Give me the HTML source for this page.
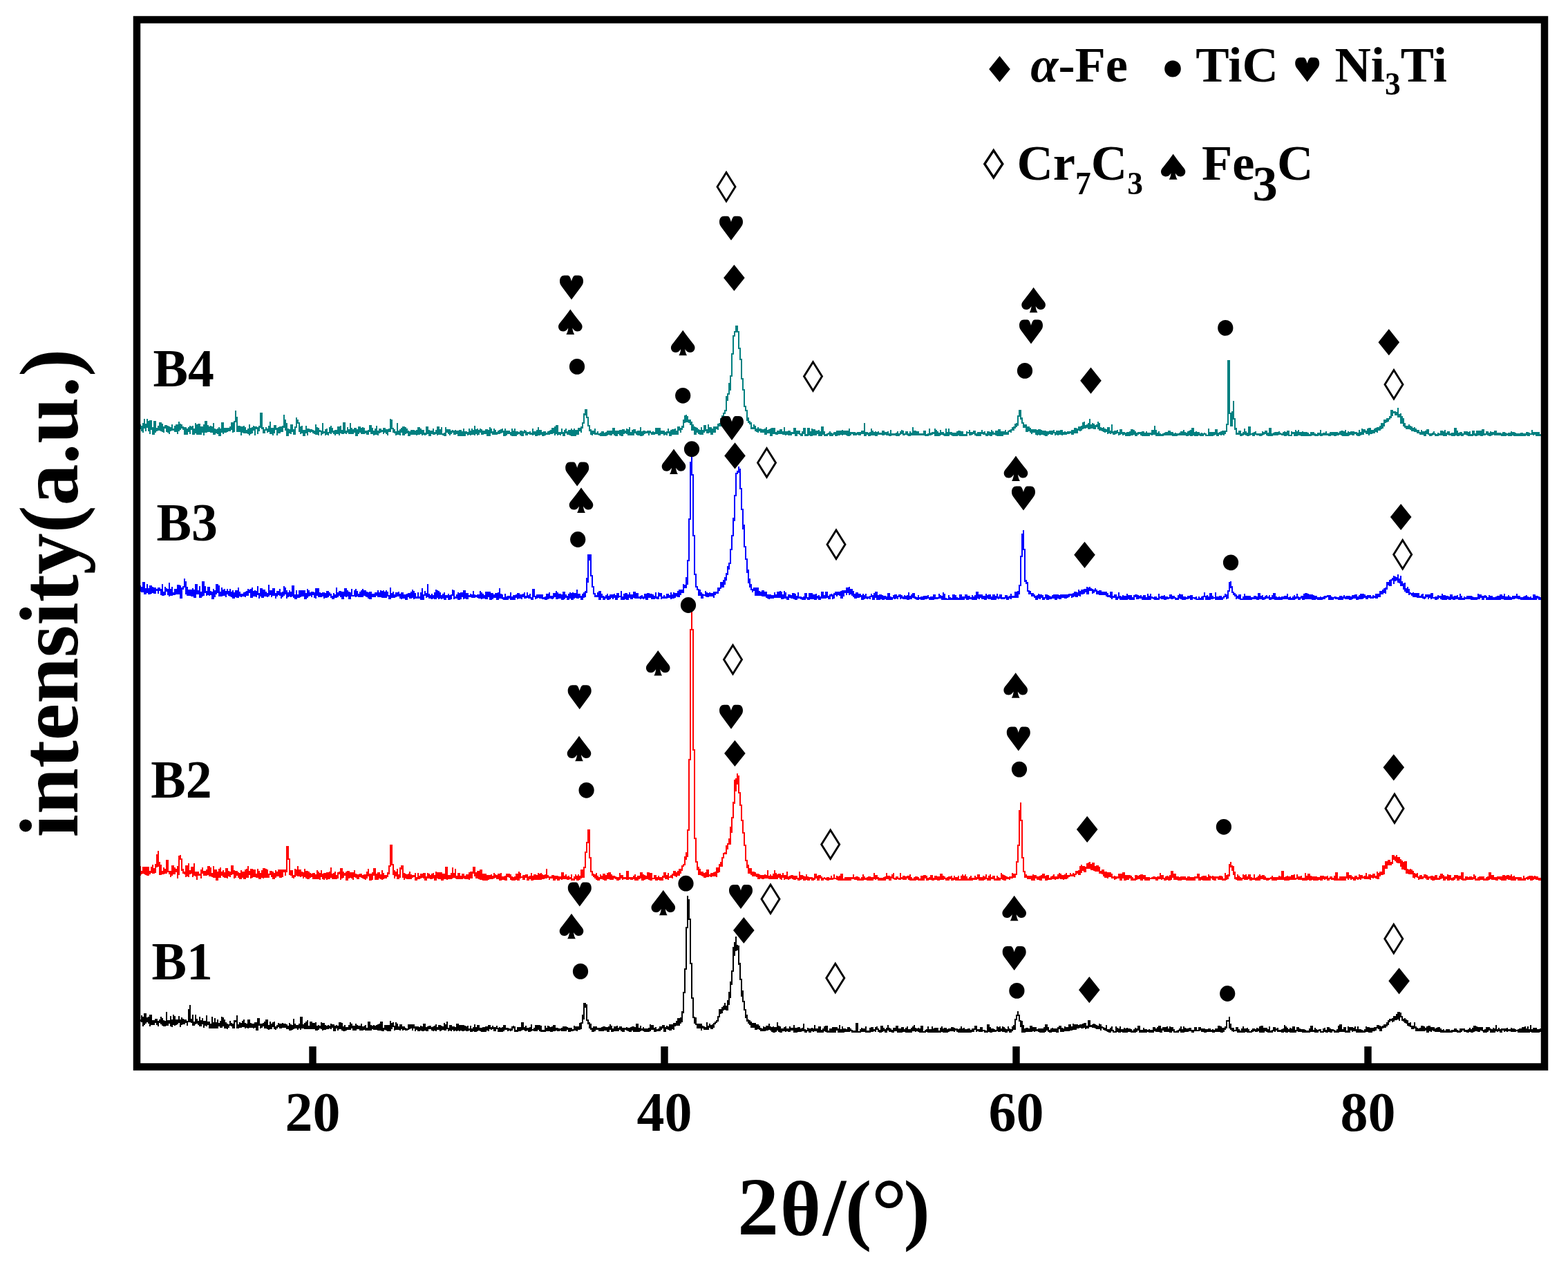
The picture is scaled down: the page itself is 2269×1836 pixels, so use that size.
<!DOCTYPE html>
<html><head><meta charset="utf-8"><title>XRD patterns B1-B4</title><style>html,body{margin:0;padding:0;background:#fff;}svg{display:block;}</style></head><body>
<svg width="2269" height="1836" viewBox="0 0 2269 1836">
<rect width="2269" height="1836" fill="#fff"/>
<defs><clipPath id="pc"><rect x="203" y="34" width="2027" height="1504"/></clipPath></defs>
<g clip-path="url(#pc)" fill="none" stroke-width="2" stroke-linejoin="miter" shape-rendering="crispEdges">
<path stroke="#008080" d="M199,616.3v-8h2v6v4h2v-4v4v2h2v-4v8v-8v2h2v8v-14v2h2v6v-14v6v2h2v8v2v-2v-4h2v-12v12v-8h2v8v6v-8v6h2v6v-6v-14v10h2v-10v10v4v-2h2v-2v2v8h2v-8v2v-12h2v10v6v-6h2v4v-4h2v-4v4v2h2v-8v2v2v-6h2v12v-2v-6v-2h2v2v2v6h2v2v-4v-4h2v2v-4v4v-4h2v6v-4v6h2v-8v6v4v-8h2v2v8v-4v-2h2v-4v2v4v-4h2v-6v8v-4v4h2v-2v2h2v-6v6v-4v6h2v-10v8v-2h2v-6v2v12v-8h2v-10v6v8v-10h2v6v2v-8v2h2v-2v6v-2h2v4v-2h2v6v-8v10h2v-10v10h2v-6v4v-6v2h2v-2v-2v2v4h2v-8v12v-10h2v4v-2h2v-4v4v4v4h2v-8v4v2h2v-8v-6v8h2v-2v6v-10v14h2v-10v-2v6v-8h2v2v8v4h2v-8v2v2v-6h2v6v-4v6v-2h2v-4v10v-16v4h2v4v2v2v-16h2v16v-8v6v-8h2v8v-2v2h2v-4v2v-4h2v-2v6v4v-6h2v6v-8h2v2v-8v16h2v-2v-6v6h2v-4v2v-2h2v4v2v-8v6h2v-6v-2v12h2v-8v-2v4h2v2v-12v12v-14h2v14v2v-6h2v4v-4v-2h2v2v4v-2h2v-4v4v-2v-2h2v2v2v-4h2v2v2v-6h2v4v-2v2v-10h2v12v2v-12v10h2v-10v8v-12h2v-16v8v2h2v12v2v6h2v-8v8h2v-8v8v-6v2h2v4v6v-12h2v6v-6v8v-4h2v-6v4v6h2v-8v8v-2v2h2v-4v4h2v2v-6v-2v2h2v-8v16v-4v-6h2v8v-8v6h2v-4v-4v4h2v-4v-2v4v-2h2v12v-12h2v2v-2v2h2v4v-6v10v-6h2v-4v6v-8v2h2v-10v4v-8v-6h2v16v-4v8v2h2v-2v6v2h2v-4v4v-4h2v-4v4v-4v4h2v-2v6v-6v2h2v-6v8h2v-14v16v2v-6h2v4v2v-8h2v10v-8v4h2v-4v-2v-4h2v2v4v-2h2v2v8v-4v-2h2v2v-8v8h2v-6v2v-4h2v2v2v-2v4h2v-4v-4v2h2v-6v-12v8h2v6v4v-10v14h2v-10v14v4h2v-10v4v2h2v-4v2v-2h2v-2v-6v14v-4h2v-10v2v6h2v2v4h2v-10v8v-8h2v-8v-6v6v-2h2v2v2h2v12v-6v2v4h2v-2v2v4v-10h2v8v-10v4v6h2v-4v2v-2v8h2v-8v4v-2h2v-6v8v-10v10h2v-4v-2v10v-8h2v-2v2v2h2v2v-4h2v2h2v-2v2v2h2v2v-4h2v-4v-6v6v8h2v-10v8v-2v-4h2v2v8v-2v-4h2v-2v2h2v4v2v-6v2h2v-14v16v-4v2h2v-2v2v-2v2h2v-2v2v4v-8h2v6v-8v2v6h2v-2v4v-4h2v-4v-2v-2v8h2v2v-6v-6v4h2v4v2v-2h2v2v-2v4v-2h2v-2v6v-8v2h2v4v-6v2h2v4v-2v-2v-6h2v8v-2v6v-8h2v-2v-4v8v2h2v-4v6v-2v-2h2v-6v4v6v-16h2v12v-6v6v2h2v-2v4v-4h2v-6v8v-4h2v6v-4v2v-4h2v-10v12v4v-8h2v6v2v-4h2v4v-6h2v4v-4v-2h2v2v4v2v2h2v-6v-2h2v6v-6v6v-10h2v8v-8v4h2v2v4v-8h2v8v-10v8v-6h2v6v-4v6v-2h2v-2h2v4v-2v2h2v-6v6v-4h2v-4v-4h2v10v2v-8h2v8v-4h2v2v4v-4v-2h2v4v-8v8h2v-12v10v-2h2v6v-6v4v-2h2v-2v-4v2h2v4v-4v-2v4h2v-2v2h2v2v-2v4v-8h2v4v2v-4h2v4v2v-4h2v6v-2v-6h2v-2v2v2h2v-6v4v-16v2h2v12h2v2v4v-6v2h2v2v-2v4h2v4v-6v2h2v-12v-2v12v4h2v-2v-2v2v-2h2v2v-4v8v-8h2v4v-2v-4h2v10v-8v6v-10h2v8v4v-6v2h2v-8v6v4v-2h2v-2v-4v6v-2h2v2v4h2v-6v2v4v-2h2v-6v6h2v-6v6v-2h2v-2v-2v6h2v-2v-2h2v6v-8v2h2v2v-8v6v4h2v-10v2v8v-4h2v-4v8v-6v4h2v-4v4v4v-6h2v4v-6v6h2v-2v4v-2h2v-2v2v-10h2v8v2v-2v-2h2v6v-8v4v4h2v-4v4v-6h2v4v-4v2v-2h2v-4v6v2h2v-2v2v-2h2v-2v4v-6v4h2v-4v-2v10v-12h2v6v-2v6h2v-2v2v-4v-2h2v4v-8v8v2h2v2v-2h2v-2v2v2h2v-8v-4v6h2v2v-2v2v-4h2v6v-2v2v-6h2v8v-4h2v2v-4h2v2v-2v-2v2h2v2v2v-2v2h2v-2v-4v4h2v2v-4v4v-4h2v2v2v2h2v-8v6v-4v6h2v-8v4v4h2v-2v-4v2h2v-6v8v2h2v-4v-2v2h2v-2v4v-2h2v4v-2h2v-2v-6v4h2v4v2v-4h2v-2v4v-8v8h2v-6v4v2v-4h2v-8v12v2v-8h2v6v-2v2v-4h2v2v-6v10v-2h2v-4v-2v6v-4h2v-4v6v-2v-2h2v6v-4v4h2v-2v2v-4h2v4v-4h2v-2v6v-2v-4h2v4v-2v6h2v-2v2v-8v8h2v-12v8v-2h2v-4v6h2v2v-4v4h2v-4v-4v8h2v-6v4v2h2v-2v2v-2h2v2v-4h2v4v-6v4h2v-4h2v4v-6v4h2v4v2h2v-4v2v-8v4h2v2v4v-4h2v-2v2v2v-4h2v4v-2h2v4v-4v2v-2h2v-6v2v4v4h2v-4v-2h2v2v2v-8v10h2v-4v-2v4h2v-4v2h2v2v-2h2v4v-6h2v6v-4v-2v6h2v-2v-2v-2v2h2v-4v2h2v6v-2h2v2v-4h2v2v-2h2v-2v2v2h2v-2v2v-2v2h2v-8v10v-4h2v2v-4v4h2v-2v-2v6h2v-4v-4v6v-4h2v6v-12v4v2h2v6v-8v2v4h2v-4v2v-4v4h2v4v-4v4h2v-2v-2v-2v2h2v2v-4v6v-2h2v-2v2h2v-2v-2v4h2v-4v2v-2h2v4v-6v2h2v4v-8h2v6v-6v2v4h2v2v2v-12h2v4v4v2v-12h2v14v-4v2h2v-2h2v2v2v-4h2v2v-8v4v2h2v4h2v-8v8v-6h2v-4v6h2v2v-4v4h2v-6v4v2v-2h2v4v-8v4h2v4v-10v8v2h2v-4v-4v6h2v-8v10v-2v2h2v-8v4v-4v6h2v-4v-2v6h2v-2v-2v-4h2v4v-2v-2v2h2v4v-4v-4h2v2v-8h2v-2v-12v2h2v-2v-4v-2v8h2v-8v12h2v2v6v4h2v8v-4v2h2v6v-4v4h2v-2v4v-6h2v4v-4v2h2v-6v6v2h2v-2v2h2v-4v2v2h2v2v-2h2v-2v2v2h2v-4v-2v2v4h2v-6v4v-2v4h2v-2v-2v4h2v-2v-2h2v2v2v-4v-2h2v4v-2v2h2v2v-2v-4h2v4v2v-4h2v-2v4v-4v-4h2v10v-6h2v2v2v2h2v-6v2v-2h2v2v2v-4h2v6v-8v6h2v-6v6v2h2v-8v4v-2v-2h2v6v-2v-2h2v2h2v-6v8v-2v-4h2v6v2v-2h2v2v-6v-6v8h2v4v-2h2v-6v8v-2h2v2v-4v-4h2v4v-4v4h2v-2v4h2v2v-6h2v2v-2v6v-6h2v6v-2v-10v12h2v-6v2h2v4v-4v-2h2v4v-2h2v-2v2h2v-2v2v-2h2v4v2v-2v-4h2v2v-2v2h2v2v-2v2h2v-2v-2v4h2v-2h2v2v-8h2v4v2v2v-4h2v4v2v-10h2v4v6v-4v-2h2v4v-2h2v2v-4v4v-4h2v2v-2v6v-2h2v-2h2v4v-2v-4v2h2v-2v2v-6v6h2v-2v4v2h2v-8v6v-6v6h2v-4v4v-6h2v2v4h2v-8v8v-4h2v2v-2v4h2v-6v2v-6h2v2v2h2v4v-2v-2v-2h2v-4v6v-6v2h2v-2v2v-10h2v4v-10h2v6v-8v4v6h2v-8v6v2v-2h2v4v-4h2v4v-2v4h2v-4v6v-2v8h2v-4v-4v6v-2h2v4v2v4h2v-4v-6v10v-8h2v6v-4h2v4v2v-6v2h2v2v-4v6h2v-6v4v-8v10h2v-4v-2v2h2v2v-10h2v8v-4v4v-2h2v2v-2v4h2v-2v-4v-6v10h2v2v-8v4h2v-2v-2v6v4h2v-4v2v-6v4h2v2v-4v2v-6h2v8v-2v-4h2v-2h2v-2v6v-2v-6h2v2v-4v4h2v-4v-2v-2v-2h2v2v-4v-2h2v8v-12h2v-4h2v-6v2v-6v-10h2v6v-2v-8h2v-6v-2v-8v10h2v-14v-6h2v-18v-6v-8h2v-10v-8v10v-18h2v-4v4v-2v-4h2v-2v-6h2v8v-6v6h2v6v2v16h2v6v4v2v4h2v14v4v8v2h2v12v-12v16h2v10v-8v8v14h2v4v2h2v8v-4v6v4h2v-4v4v4v-2h2v2v2v-2h2v8h2v-2v2h2v-6v4v2v-2h2v6v-8v6h2v-2v2v2h2v-6v8v-4h2v2v-4v4v-2h2v4v-6v4h2v2v-4h2v2v2v-4h2v-2v4v2v2h2v-10v10v-2h2v-4v4h2v-2v-2h2v6v-8v8v2h2v-4v2v-8h2v6v-2v4v-8h2v8v-4v2h2v2h2v-2v-2h2v4v-4v2h2v-2v4v-6h2v4v2v-2h2v2v-4v4h2v-10v6v-6v10h2v2v-4v-2v4h2v-4v2v2v-2h2v2v2v-2v-4h2v2v4v-2h2v-2v4v-4h2v2v-2h2v2v-2v2v-8h2v8v2v-2v2h2v-6v4v-4h2v4v-2v-2h2v2v2v-2v2h2v2h2v-6v2h2v2v-8h2v6v2v2h2v-2v2v-2v2h2v-6v4v-8h2v8v2v-4h2v4v-6v6h2v-10v10v-2h2v2v-4v4v-8h2v4v4v-6h2v6v-2v-2h2v2v-2v-2h2v-2v4v2v2h2v-2v-4v6h2v-12h2v8v2h2v2v-6v4v2h2v-2v2h2v-2h2v-2v2v-2v2h2v-4v2v4h2v-2v-2v4h2v-2h2v-2v2v-2h2v4h2v-4v2v-2v-2h2v6v-2v2v-6h2v2v4v-2h2v-2v-2h2v6v-8v8v-2h2v-4v2v-2h2v2v2h2v2v-2v2v-6h2v4v2h2v-2v-8v8h2v-2v4v-4h2v2v-2h2v2v-2v4v-4h2v4v-4v2h2v-2v4v-2h2v-2v2v-2h2v4v-2v-2h2v4v-4h2v2v-2v-2h2v2v2v-2h2v2v-16v18h2v-2v-2h2v2h2v-2v2v2h2v-4v2v-2h2v2v-8v10v-6h2v4v2v-2h2v-2v4v-4h2v-2v4v2h2v-2v-2v2v-2h2v2v-4v4h2v-2v2h2v-2v2v-2v2h2v2v-6h2v6v-2v-4v4h2v-2h2v4v-2h2v2v-6v4h2v2h2v-8v6h2v2v-2h2v2v-2v2v-2h2v2v-2v2v-2h2v2v-4v4h2v-6v4v2h2v-2h2v-2v-2v2h2v2v-6v4v-2h2v4v2v-2h2v2v-2h2v-4v4v-4v4h2v-4v6v-2h2v2h2v-6v6v-2h2v-2v4v-2h2v-10v10v2v-4h2v4v-2v-4h2v6v-2v2v-2h2v-4v6v-4v2h2v2v-4v-2v4h2v2v-2h2v2v-2h2v2v-2v2v-2h2v2v-2v-4h2v6v-4v4h2v-2v2h2v-2v2v-2h2v2v-10v8h2v2v-4v2h2v-2v2v-2h2v2v-2h2v-6v10v-2v2h2v-2v-6v8h2v-6v2v4h2v-4v2h2v-6v8v-4v2h2v-2h2v4v-2h2v2h2v-10v10v-4h2v2v2h2v-10v8v2v-2h2v-2h2v4v-4v4v-2h2v-2v2v2h2v-2v-2v4h2v-2v-2v4h2v-6v6v-4v2h2v2v-6h2v6h2v-6v4v2h2v-6v6h2v-2v2h2v-2v2h2v-6v6v-2v-2h2h2v2v-6v8v-4h2v4v-2v2v-2h2v-2h2v2v-4v4v-4h2v6v-4v2h2v2v-2v2h2v-2v-2h2v2v2v-4v4h2v-2v-2h2v2v-6v6v-2h2v2v-2v2h2v-4v2v2h2v2h2v-6v4h2v-4v6v-2v-2h2v4v-2v2h2v-4v4v-8v6h2v-4v4v-4v4h2v-2v2v-2v2h2v-2v4v-4v-2h2v4v2h2v-6v6v-2v-6h2v4v2v-2v4h2v-6v4v-4v6h2v-6v4v-2v2h2v-2v2v-4v4h2v-2v-2v-2v4h2v2h2v-4h2v-2v2h2v2v-2v-2h2v-2v-2v4h2v-2v2v-4h2v2v-2v-2v-2h2v4v-6v2h2v2v-4v-2v-8h2v-8v6v-2v-4h2v2v10h2v-2v4v4h2v4v2v-6v6h2v-2v-2v2v2h2v-2v2v-4v10h2v-6h2v6v-4v2v-2h2v6v-4v2h2v-2v6v-6h2v2v2v-4h2v4v-4v4v-4h2v4v-4v6h2v-2v-4v8v-2h2v-2v2v-6h2v4v-2v6v-2h2v-6v2v4h2v-2v2v-4h2v6v-4v-2h2v4v-2v4h2v-2v-4v4h2v-4v2h2v2v-2v2v-4h2v4v-4v4h2v-4h2v2v-4v4h2v2v2v-2h2v-4h2v4v-2v4v-6h2v2v-2v4h2v-6v4v2h2v-2v4v-8v6h2v-2h2v-2v4h2v-2v2v-2h2v-2v4v-2h2v2v-4v2h2v-2v2h2v-4v2v2v2h2v-6v2v2h2v-2v-4h2v4v2h2v-4v-2v2h2v-2v2v-4h2v2v4v-4v2h2v-2v-2v-2v4h2v-4v-4h2v-2v10v-2v-2h2v4v-2v-2h2v-2v4h2v-2v2v-6v8h2v-6v-8v12h2v2v-6v2h2v-4v8v-8v2h2v4v2h2v-4v2v-2h2v2v-4v4v-2h2v2v-8v10h2v-8v4v2v4h2v-4v4v-2v2h2v-2v4v-4h2v2v-4v6h2v-2v-2v6v-4h2v2h2v-6v10v-6v2h2v2v-4v-4v8h2v2v-4v2v-2h2v-10v12v-2v2h2v-2v2v2h2v-2v-2h2v4v-2h2v-4v4h2v4v-2h2v-6h2v6v-4v2h2v2v2v-4h2v2v-2v2h2v2v-2v-2v4h2v-2v-2v2v-2h2v2v2h2v-6v4v-2h2v4v-2v-6h2v6v2v-2h2v-2v-4v6h2v-4v4v2h2v-2v-2v2h2v-2v2v-2h2v2v-2h2v4v-2v-2h2v2v-4v2v4h2v-6v4v-2v2h2v2v-2v-2v4h2v-2v-4v4h2v2v-4v4h2v-4v4v-2h2v-2v2h2v2v-8v6h2v-6v2v2h2v-2v-8v6v6h2v-4v-2v6v2h2v-2v-2v4h2v-2v-4v4h2v2h2v-2v2v-2v2h2v-2h2v2v-2v-2v2h2v2v-2v-2h2v4v-2h2v2v-2v-4h2v2v4v-2h2v2v-2v2v-4h2v2v2h2v-2h2v2v-4v4h2v-2v2v-2h2v2v-2h2v-2v4v-2h2v-4v6v-4h2v4v-6v2h2v4v-2v-6v4h2v4v-4v2h2v-2v4h2v-6v6v-4h2v4v-4v2v-4h2v-2v6v2h2v-2v-2v2v-8h2v10v-4h2v4h2v-6v6v-2v2h2v-2v2v-4h2v2v2v-2h2v2h2v-4v4h2v-2v2v-2h2v-2v2h2v2h2h2v-6v-4v8v2h2v-4v4v-2v-2h2v2v-2v4h2v-2v-2h2v4v-4v2h2v-4v-2h2v8v-6v4v2h2v-2v-2v2h2v-2h2v-2v6v-2h2v-2v2v-4h2v2v-2v6v-4h2v2v-2v-2h2v-2v-6v-2h2v-18v-22v-24v-28h2v10v12v32v22h2v14v4v-2v2h2v-10v-4v-6h2v-16v8v12v6h2v12v4v-2h2v8v-2v-4v6h2v-2v2v-2v2h2v-2v2v-4h2v6v-6v4v2h2v-2v2v-2h2v2v-2v-2h2v-6v8v-2v2h2v-4v4v2v-2h2v-2v4h2v-4v4v-12h2v10v2v-6v4h2h2v-2v2v2h2v-4h2v-2v4h2v2v-2h2v2v-2h2v2v-2v2h2v-2h2v2v-6v2v2h2v-2h2v-2v4v-2v-2h2v4v2v-2h2v2v-4v2v2h2v-2v-8h2v10h2v-2h2v-2v4v-2h2v-2v4v-4h2v2v2v-4h2v2v2v-4h2v-2v4h2v-2v2h2v2v-2v2v-2h2v2v-4v2v-2h2v-2v2v2v2h2v-2v-2h2v2v2v-6h2v4v2h2h2v-4v-2v6v-4h2v2v-2h2v2v2h2v-8v4v4h2v-6v6v-2h2v-4v-2v8v-2h2v2v-4h2v4v-2v2h2v-2v-4v4v-2h2v4v-2v2h2v-2v2v-4h2v2v2v-2v2h2v-2v-2v4h2v-2v2h2v-2v2v-2v-2h2v2v-2v4v-4h2v2v2v-4v2h2v2v-2v2h2v-2v2h2v-4v2h2v2v-4v2h2v-6v8h2v-2h2v-2v4v-2h2v-2v4v-4v2h2v-4v6v-2h2v2v-2h2v2h2v-4h2v2v2v-2h2v2v-4h2v4v-2v2h2v-2v2v-4h2v4v-4v2h2v-2v4v-2h2v-4v4h2v2v-6h2v4v2h2v-2v-4v2v2h2v-6v6v2h2v-4v2v-2v4h2v-6v4v2v-4h2v2v2v-4h2v2v-4v4h2v2v-6v2v2h2v2v-6v2h2v2v-2v2v-2h2v2v2v-2h2v-2v4h2v-4v-4v2v2h2v4v-4v2h2v-8v2v6h2v-2v-4h2v4v-2h2v4v-4v4v-2h2v2v-4v-4v6h2v4v-6v-4h2v6v2v-2v-2h2v2v2v-6v4h2v-4v4v-2v2h2v-2v-4v4h2v-4h2v4v2v-8v4h2v-4v4h2v-2v-4v4h2v-8v6v-2h2v4v-2v-6v4h2v-2v-2v-2v-2h2v2v2v-2h2v-4v4v-4h2v4v-2v-2h2v-2v-2v2h2v-2v-4v-4h2v2v6v-6h2v2v-2h2v2v2h2v-4v4h2v4v-14v6v4h2v4v-4v4v-2h2v-4v4v6v4h2v-8v-2v10v-6h2v4v4v2h2v-4v4v-2v4h2v-2v2v2h2v-2v-2v4h2v-4v2v-4v6h2v-4v6v-4h2v6v-2h2v2v-4h2v-2v2v4h2v-4v2v2h2v-2v4h2v-4v4v-4v4h2v2h2v-6v6h2v-2v2v-4v4h2v-4v4v-2v4h2v-4v-2h2v4v-2v-4h2v2v4h2v2h2v-2h2v-2v4v-2h2v-4v2v2h2v2v-2v2h2v-2v2v-2v2h2v-2v-2v2h2v2v-2h2v2v-6h2v2v4v-2h2v2v-2v-4v6h2v-8v6v2h2v-4v2h2v-2v-2v4h2v2v-4v-2v4h2v2v-2h2v-2v2v2h2v-4v2v2h2v-10h2v8v2v-6h2v4v2v-4v4h2v-4v4v-2h2v2v-2v-2h2v4h2v-2v2v-2h2v-4v2h2v-2v4h2v2v-6v2h2v2v2h2v-6v4v2h2v-2v2h2v-2v-4v6v-6h2v6v-2h2v2v-2v2h2v-2v-4h2v2v4v-4v-2h2v2v4v-6h2v6h2v-2v2v-8h2v4v2v2v-2h2v2v-2h2v-4v4h2v-2v4v-6v4h2v2v-4v4h2v-4v-2v4h2v2v-4h2v2v-2v2h2v2v-6h2v6v-4v2h2v-2v4v-2h2v2v-4v2h2v-2v2v2v-2h2v2h2v-2v-2h2v4v-2v2h2v-4v2h2v2v-2h2v-2v2v2h2v-2v-2v4h2v-6v4v-2h2v4v-2v2v-4h2v2v2h2v-4v4h2v-2h2v2h2v-2h2v2v-4v4h2v-2v2v-4v2h2v2h2v-2h2v2v-4h2v4v-2v2h2v-2v2v-4v2h2h2v-6v4h2v2v2v-2h2v-2v2v-2h2v2v2h2v-4v4v-4h2v4v-2v2h2v-2v2h2v-2v-6v6h2v-4v4v2h2v-2"/>
<path stroke="#0000FF" d="M199,857h2v-10v18v-14v4h2v-8v6v-2h2v-2v8v-6v0.1h2v2v4v-14h2v12v4v-6v6h2v-8v6v2v-2h2v-4v-2v-6v12h2v-6v2v2v4h2v-6v-2v-4v10h2v2v-3.9v-8v10h2v-2v2v-8v8h2v2v-2v2v-8h2v4v-2v6v-6h2v2v-2h2v4v2v-2v-6h2v4v-2h2v6v2v-3.9h2v-12v16v-8v8h2v-4v2v-2h2v-2v-6v12v-8h2v2v-4v4h2v2v4v-8h2v10v-20v12v-2h2v4v-4v6v2h2v-1.9v-10v10h2v2v-4v2h2v-4v2v4v-8h2v6v-6v6h2v-2v-4v6v-12h2v10v2v-10v10h2v-2v-10v18h2v-8v-6h2v0.1v2v-4h2v-12v2v8h2v10v-16v16v2h2v-10v12h2v-6v4v-6v2h2v2v-4v4v4h2v2v-6v-4v6h2v-8v12v-4h2v-6v0.1v2v8h2v-8v-10h2v14v-8v8v-4h2v-2v2v4v-2h2v-6v8v-12v16h2v-2v-6v6h2v-6v4v-12v-6h2v20v-10v4v-4h2v6v-8v-2v8h2v6v-4v2.1h2v-6v6v-10h2v12v-8v6v-4h2v2v-2v4h2v-4v4v6h2v-6v-8v4h2v8v-10v4v-2h2v-6v10v-14h2v8v2v2v-10h2v10v-4v4v4h2v-2v-3.9v6h2v-4v-8v8v-4h2v8v-6h2v6v-10v6h2v6v-4v2v-6h2v4v-8v6h2v4v-6v6v-6h2v-2v8v-10v10h2v2v-8v2h2v-4v12v-10v2h2v8v-6v0.1h2v4v-10v2h2v2v-2v-2v10h2v-6v-2v-6v12h2v-4v4v-6v4h2v4v-4v2v-2h2v2v-2v2h2v-2v-2h2v6v-8v2h2v-2v6v-2v-4h2v-4v10v-8h2v4v-2h2v2v-6v12.1h2v-2v-12v6h2v4v2h2v-6v-2v2h2v2v2v4v-4h2v-12v10v-8v10h2v6v-8v4h2v-2v-6v4v-6h2v6v4v2h2v-4v4v-2v-8h2v8v-4v2v2h2v-4v-2v4h2v2v-4v6v-2h2v-2v-13.9v14h2v-4v-2v6h2v-6v8v2v-4h2v-6v6v2v-10h2v6v4v-2h2v-2v2v6v-4h2v-4v-2h2v4v-2v2h2v-8v10v-4h2v8v-2v-2h2v-6v2v6v-6h2v-10v14v-4v-2h2v4v-2v-8v8h2v-4v12v-4v-4h2v6v-1.9v-4v4h2v-8v4v4v-4h2v6v-4v-4v6h2v-6v4v-12h2v10v6h2v-4v6h2v-8v-4v8h2v-2v4h2v-10v6v-2v2h2v4v-10v8v-2h2v2v-8v8h2v-8v6h2v-6v12h2v-8v6h2v-12v8v-2v4h2v-8v4v4v-4h2v4.1v-4h2v6v-4v-4v4h2v-4v2h2v4v-4v6h2v-2v4v-14h2v10v-2v-8h2v10v-4v6v-6h2v2v4v-6v4h2v-4v6v-6v4h2v-4v2v-2h2v8v-4v-2h2v-2v6h2v-8v2v4v-6h2v6v-6v8v-6h2v4v-2h2v4v-4v4h2v-2v2v2h2v-8v4v2h2v-4v2v2.1h2v-6v-8v8h2v2v2v2v-6h2v2v2v-2v-4h2v8v-4h2v-4v10h2v-6v2v-6v6h2v-4v2v-4v-4h2v12v-2h2v-4v-4v8h2v-6v6v-4v8h2v-6v-2h2v-6v8v-2v4h2h2v-8v2v-2v2h2v-4v6v6v-8h2v6v-4v4h2v2v-4h2v4v-8v6v-2h2v-4v8v-10v2h2v-4v12v-4h2v2v-8v2.1h2v2v4v-8v8h2v2v-8v4h2v4v2v-8h2v-2v4v6h2v-2v-2v-6v6h2v2v-4h2v4v-4v2h2v2v-2v-4h2v2v2v-4h2v-4v10v-6h2v6v-2v-4v2h2v4v-10v8v-6h2v6v-6v8h2v-4v2v-8v10h2v-8v2v6h2v-2v-8v10v-2h2v-6v4v2h2v2v-2v4h2v-4v-12v6v4h2v4v-6v6h2v-4v-4v8h2v-4v2h2v2v-4v-2h2v2v2h2v-2v-4v6v-2h2v2v-3.9v6h2v-4v6v-10v8h2v-2v-2v-4v8h2v-4v2v2v-4h2v2v4h2v-2v-6v2v2h2v-4v4v-4h2v4v-4v4v2h2v-2v2v-8h2v8v-12v12v-6h2v8v-12v8v-4h2v2v4h2v-2v2h2v-8v4v-2v6h2v-2v2h2v2v-10v4v6h2v-16v12v-8v12h2v-4v2v-4h2v-6v6h2v2v2v-6h2v2v-16v18h2v-4v2v2v2h2v-2v-2v4h2v-2v-4v8v-2h2v-4v2h2v2v-8v10v-4h2v-10v14v-6v-6h2v8v2v-4h2v-4v-2v12v-4h2v-6v8v-4v4h2v-4v6v-2h2v-4v-2v4v2h2v-7.9v6v4h2v-6v2v2v-2h2v-2v4v-2h2v2v-4v-2v8h2v-4v-2v4h2v2v-6v4v-4h2v-8v8v-2v-4h2v12v-8v4v2h2v-2v2h2v-2v2v-2v-2h2v2v-6v10h2v-2v-4v-2h2v8v-2v-8v2h2v-2v4v2h2v4v-6v-6h2v8v-6v8h2v-6v2v6v-8h2v4v4v-6v2h2v-2v2h2v-2v-2v2h2v2v-2v4v-4h2v4v-10v8v-2h2v2v2v-2h2v-2v2h2v2v-2v-2h2v4v-2v2h2v-10v6v2h2v4v-4v-6v8h2v-6v6v-2v2h2v-4v4v-2h2v4v-10v6v-6h2v8v2v-2v-2h2v-6v6v-6h2v6v-2v6h2v-2v-4v-2h2v6v2v-8v2h2v2v2v-4h2v-2v6v-2v-4h2v2v2v-2v6h2v-10v6v-2h2v-10v14v-6v6h2v-6v6v-4h2v6v-4v-2v4h2v0.1v2h2v-8v2v4h2v-2v2v2h2v-2v-2v2v-2h2v2h2v-2v-6v8v2h2v-4v2h2v2v-6v2v4h2v-6v4v-2h2v2v-4h2v2v-4v8v-8h2v4v2h2v-2v2v-4h2v2v4v-6h2v-2v4h2v-4v4v-6v8h2v-2h2v2v-8v6h2v-2v4h2v-6v2v4h2v2v-2v2h2v-6v2v-6v-4h2v6v2v2h2v4v-2h2v-4v4v-4h2v2v2v-4h2v4v-4v4h2v-4h2v6v-2v2v-2h2v2v-2h2v2v-4v2v2h2v-8v8v-2h2v-6v8v-4h2v-2v-4v8h2v-2v2v-2h2v2v2v-4v2h2v-6v2v-2h2v4v-2v2h2v-8v6v6v-2h2v-8v10v-2v-2h2v-4v2v4h2v-2v2v-6v2h2v2v4v-2v2h2v-4v2v-8h2v6v4v-8v2h2v4v-4v2h2v2v2h2v-4v4v-8v6h2v-8v4v-2h2v2v4v2h2v-10v8v-4v4h2v-2v2v-6h2v4v2v-6h2v6v-12v12h2v-4v-2v4h2v2v-6v6v-2h2v4h2v-8v2v2v-2h2v4v-2v-6v6h2v-6v4v-6v2h2v-4v-4v-12h2v6v-14v-4v-22h2v8v-8v6v-6h2v2v14v14h2v2v4v4v6h2v6v2.1v2h2v4v-2v2h2v-2v2v-2v2h2v-6v2v4h2v-8v8v-4v8h2v-2v-2v-8v8h2v-4v2v4v-2h2v4v-2v2h2v-4v2v-2v2h2v-4v4h2v-2v-4v8h2v-2v2v-2v-2h2v4v-2v-2v-2h2v2v2v-4h2v6v-2v-2h2v2v-6v4h2v-2v2v4h2v-6v2v4v-8h2v6v-2h2h2v-8v6v6h2v-2v-2v4h2v-2v-6v8v-4h2v4v-8h2v4v-2v4v2h2v-2v-2v4v-6h2v-4v6v2v-4h2v6v-2v-2h2v4v-6v2v-2h2v4v-4v-4h2v6v-2v4h2v-6v4v-4h2v6v-4v4h2v-2v2h2v2v-4h2v-2v4v-2v2h2v2v-2v-2v2h2v-4v2v-4v4h2v2v-6v8h2v-6v6v-6v-2h2v6v-4v-2v2h2v4v-6v4v-2h2v6v-8v6v-4h2v6v-4v2h2v2v-4h2v-4v2v-4v8h2v-2v4v-2h2v2v-10v2v2h2v2v-2v-2h2v4v4v-4v2h2v-2v2v-2v2h2v-2v-2v4h2v-2v2h2v-2v-4v4h2v-2v4v-6v4h2v2v-2v-2v2h2v-6v10v-8v2h2v4v-2v2h2v-2v-6v4h2v4v-2v-4h2v4v-2v-2h2v4v-4v-4v8h2v-10v6v-6v6h2v2v-8v4v-2h2v-2v4h2v-4v-8v4h2v2v-4h2v4v-6v-10v10h2v-8v-8v-18h2v-8v-20v-14v-18h2v-22v-24v-16v-20h2v-14v-4v14v22h2v8v30v22v28h2v8v24v8v16h2v4v8v6h2v4v-2v2h2v2v6h2v-6v-2v6h2v-2v6v2h2v-4v-2v2h2h2v-6v6v2v-2h2v-4v4v2h2v-4v2v-2h2v4v-6v2h2v2v2v-4h2v4v-4v4v-4h2v2v-2v6v-8h2v2v2v-4h2v2v-2h2v-2v2v2v-8h2v4v-4h2v-2v2v-8h2v6v-4v2v2h2v-2v-8v6h2v-4v-4v-2v4h2v-2v-8v4v-2h2v-4v-8v10v-6h2v-4v2v2v-8h2v-4v-12v2v-6h2v-6v-2v-8v-4h2v-8v-12v-6v4h2v-24v6v-18h2v-18v-2v-10v-2h2v-4v2h2v-4v4v-8v4h2v6v12v4v6h2v6v6v8v10h2v8v12v8h2v-6v16v4v12h2v8v4v4v2h2v4v8v8v-4h2v6v-4v14v2h2v-6v4v8h2v-4v4v-2v6h2v2v2v-2v-2h2v2v-4h2v2v6v2h2v-4v-4v4v-6h2v8v2h2v-2v2v-6v2h2v2v2h2v2v-2v-6h2v8v-2v-2v2h2v2v-6h2v4v4v-4h2v2v-2v4h2v-4v4v2v-6h2v2v2v-2v2h2v-2v-2v2v2h2v-4v2h2v2v-8v4h2v4v-2h2v-4v6v-2v-6h2v8v-4v4v-2h2v-8v6v4v-8h2v8v2v-4v-2h2v6v-6h2v-6v4v6h2v-2v-6v6v2h2v-1.9v2v-2v4h2v-6v2v-2h2v2v-2v4v-2h2v-2v4v-2v2h2v-2v-2v2v-4h2v4v4v-4h2v4v-4v-4v8h2v-2v-2h2v-6v4v2v2h2v-2v2h2v2v-4v2h2v2h2v-4v4v-2v2h2v-4v-2v-2h2v6v-4v4h2v2v-2v2h2v-4v4v-4v-4h2v6v2v-8h2v6v2v-2h2v-4v4v2v-6h2v2v2v-2v4h2v-8v2v2h2v2v-2v2h2v2v-4v-2v6h2v-4v2h2v-2v2v-8h2v8h2v-4v4v-2v2h2v-2v-4v-2h2v2v4v2v-2h2v2v2v-2h2v-2v4v-6h2v2v-4v2h2v4v-2v4v-2h2v-2v-2v-2h2v2v-2v-2h2v4v-2v4v-6h2v2v-2v4v-4h2v2v2v-2v2h2v-6v6v4h2v-2v-4v-2v-2h2v8v-4v-4h2v2v-2v2h2v4v-4v-4v-2h2v4v2h2v4v-6v-6v10h2v-6v2v2v-4h2v2v4v-2v4h2v-6v6v2h2v-4v2v-2v6h2v-8v4v-2h2v4v-6v8v-4h2v-2v4v2v-4h2v-2v4h2v-2v6h2v-8v4v-2v4h2v-4v4v2v-2h2v-2v-4v2v4h2v-2v4v-2h2v-2v2h2v2v-2v-2h2v-4v4h2v2v2v-6v6h2v-6v2v-4h2v6v-2v-6h2v10v-2v-6v8h2v-6v2v4h2v-2v-4h2v6v-2v2v-2h2v-4v6h2v-4v4v-4h2v4v-4v4v-2h2v2v-4v4h2v-2v-2v4v-8h2v4v4h2v-4v4h2v-2v2v-2h2v-4v4h2v-4v4v2v-6h2v2v2h2v2v-4h2v-2h2v6v-4h2v2v-4v4h2v2v-4v2h2v-4v6v-2v-2h2v4v-2v-2h2v-2v4v-2v4h2v-10v6v4v-4h2v4v-4v2v-2h2v4v-2v-4h2v4v-6h2v6v-2v-2v4h2v2v-4v2h2v2v-2v2h2v-2v2v-6v4h2v2v-2h2v-2v4h2v-2v-2v4h2v-4h2v4v-2v-2h2v4v-4h2v-2v4v-4v4h2v2h2v-2v2v-4v2h2v2v-4v4h2v-2v-4h2v4v2v-2h2v2v-2h2v2v-2h2v-2v-4v6h2v-2v-2v4v-2h2v4v-2v2h2v-10v8v-2v2h2v-2v2v-6v8h2v-2v2h2h2v-6v6v-4v2h2v2v-2v2h2v-2v2h2v-4v4v-4v-2h2v6v-4v4h2v-6v4v2v-2h2v2v-2v2h2v-2v2h2v-2v2v-2v-4h2v2v-2v4v2h2v-4v4h2v-4v2h2v-2v2v-4h2v4v2v-2v2h2v-4h2v4v-4v2h2v2v-2h2v2v-6v2v4h2v-2v2v-4v4h2v-6v2v4h2v-2v-4v6v-10h2v6v2h2v2v-4v-2h2v2v2v-4h2v6v-6v4h2v2v-2v-2h2v2v2h2v-2v-6v8v-2h2v-2v-2v4h2v-4v6v-4v-2h2v6v-2h2v2v-4v2v2h2v-2v-4v2v-2h2v4v-2v4h2v-2v2v-2v-2h2v2v-6v6h2v2v-4v2h2v-4h2v4v2v-2h2v2v-2h2v2v-2h2v-4v4v-2h2v-2v4v2h2v-2v2v-4v2h2v-2h2v-4v4v4v-4h2v2v-2h2v2v-2h2v2v-8h2v8v-2v-2h2v4v-10v6v-2h2v-6v-4v-2h2v-16v-8v-12v-6h2v-14v-4v-10v-4h2v-6v12v6v10h2v16v10v8v12h2v-2v6v-2h2v8v-2v6h2v2v2h2v-2v-2v4h2v4v-2v-2h2v4v-2h2v4v-4v4v-2h2v2v2h2v-6v2h2v2v-6v4v2h2v-2v4v-6h2v4v-4v2h2v-2v6v-6v6h2v-2v2v-2h2v-4v2v2v-4h2v2v2v2h2v-2v-2v-2v2h2v2v2v-4v2h2v2v-4v2h2v-2v-2v4h2v-4v4v-4h2v2v-2v6h2v-4v4v-6h2v4v-4v2v2h2v-2v4v-6v2h2v4v-4v-2h2v2v2v-2h2v-2v4v-4h2v2v2h2v-2v-2v4v-4h2v2v2v-2h2v-2v2v-4v2h2v-2v2v-2v2h2v-2v6v-4v2h2v-2v-2h2v4v-2v-2v-2h2v2v4h2v-4v-2v2v2h2v-8v6v-2h2v6v-8v4h2v-6v4v-4v6h2v-2v-4v2h2v4v-4v-2h2v4v-2v-2h2v-4v10h2v-6v2v2v-6h2v4v-6v6v-2h2v-2v2v2v-2h2v4v2v-6v4h2v-4v2h2v-4v2v2h2v2v-4v6h2v-2v-2v4h2v2v-4v-2h2v2v4v-2v-2h2v2v2v-2v-2h2v2v2v-2h2v2v-4h2v4v2v-4h2v4v-2v2h2v-2v2h2v-2v4v-8h2v6v4v-4h2v2v-2h2v2v-2v-2h2v4v-2v2v2h2v-2v-2v2h2v-2v2v-8v6h2v2v-2v4h2v-2v-2v4h2v-2v-4v6h2v-4v2v-2h2v2v-2v2v2h2v-8v6v2v-2h2v-2v-2v6v-2h2v-4v6h2v-2v-2v-2v4h2v2h2v-6v6v-4h2v-2h2v6v-4v2v-2h2v2v-4v6v-4h2v2v-2v2h2v-2v2v-4v4h2v2v-4v2v2h2v-6v6h2v-2v-4v4h2v2v-2v2h2v-4v2v-6v4h2v4h2v-8v8v-2h2v-2v2h2v2v-2h2v-2v2v2h2v-2v2v-4v4h2v-2v2h2v-2v-6v8v-2h2v-2v2h2v2v-2v2v-4h2v4v-4v2v-2h2v-2v6v-2v2h2v-4v2h2v2v-4v2h2v2v-2v2v-2h2v-2v-2v2v-2h2v6v-4v4v-4h2v4v-2v-2h2v2h2v2v-2v2h2v-2v2v-2v2h2v-6v6v-2h2v-2v-4v6h2v2v-2v2v-6h2v2v2v2h2v-4v4v-2v2h2v-4v2h2v2v-2h2v-2v2v2v-4h2v2h2v2v-4v-2v6h2v-6v6v-2h2h2v2v-2h2v-2v2v2h2h2v-4v4h2v-2v2h2v-2v-2v4h2v-2v2v-4h2v-6v6v-2v2h2v2v-2v2v2h2v-4v-2v4h2v-2v2v2h2v-6v2v4v-8h2v6v2v-6v2h2v2v2v-2h2h2v-8v6v4h2v-4v4h2v-4v4h2v-4v2v-2h2v4v-4v4h2v-2h2v-2h2v-4v4v-2h2v6v-4v2h2v-2v-2v-6h2v-2v-2v-6v-2h2v8v-6v-4v8h2v4v2v2h2v4v-2h2v4v-4v4v-2h2v6v-6v2h2v2h2v-2v4v-4v-2h2v4v-2v4h2h2v-2v-2v4h2v-4v4v-8v8h2v-4v2v-2h2v2v-2v4h2v-2v-2h2v2v-2v2v2h2v-2h2v2v-2h2v2v-2v-2h2v2v-2v4v-2h2v2v-4v4h2v-4v-2v-2h2v6v2v-4h2v2v2v-4v2h2v-4v6v-2v2h2v-2h2v2v-4h2v-2v4h2v-2v2h2v-4v6h2v-2h2v2v-6v2h2v4v-8h2v6v-2v4h2v-4v2v2v-2h2v2h2v-2v2v-4v2h2v2v-2v2h2v-2v-2v2h2v-2v4v-2h2v2v-4h2v2v2v-2h2v-6v4v4v-2h2v2h2v-4v4h2v-2v2h2v-2v-2v4h2v-6v4h2v-2v4v-2h2v-6v2v4h2v-2v2v2h2v-2v2v-2h2v-2h2v2v-2v2v2h2v-8v4v4v-4h2v4v-4v4v-8h2v6v2v-6v4h2v-6v8v-4v-2h2v6v-4h2v2v2v-6h2v4v-2v2v2h2v-6v4v2h2v-4v4v-2v-2h2v2v2v-4v2h2v2v-2v2h2v-2h2v2v-4v4h2v-2h2v2v-2v-2v2h2v2v-4h2v2v-2h2v-2v2h2v-2v6h2v-6v4h2v-2v2v2h2v-2v2v-2h2v-2v2h2v-2v4v-2h2v2v-2h2v2v-2v2h2v-2v-2h2v2v2h2v-4v4v-2h2v-4v4v-2v2h2v-2v2v2v-2h2v2v-4h2v4v-4h2v2v2h2v-2v-2v2h2v2v-6v2h2v-2v4v-2v2h2v-4v2v-2h2v4v-4v6h2v-4v2h2v-4v4v2v-4h2v-4v6v2v-6h2v-2v8v-2h2v-6v6v-4h2v4v-2h2v4v-2h2v2v-6v2h2v-2v4v-2h2v2v-2v-2v4h2v-2v2v-2v2h2v-2v-2v2h2v2v-2h2v-4v2v2v2h2v-6v2h2v2v-4v2v2h2v-2v-6v4h2v-4v4v-2v2h2v-2v-2v-2v4h2v-2v-4v2v2h2v-4v4v4v-8h2v2v-2v-8h2v4v-2h2v2v-2v-6v8h2v-2v-4v-2h2v-2v2v-2h2v8v-2v-10v2h2v4v2v-6v4h2v-2v-2v2h2v6v-12v10h2v-4v4v2h2v-2v-8v10v4h2v-6v4h2v2v6v-4h2v-6v2v4v6h2v-4v6h2v-6v-2v4h2v2v6v-2h2v-2v2h2v2h2v-4v2v4h2v-2v-2h2v2v2v-4v4h2v2v-4v-2h2v2v4v-2h2v2v-2h2v2v-4h2v-2v6v-4v4h2v-2v2v2v-2h2v-4v4v-4h2v2h2v4v-4v-2h2v2v2v-4h2v6v-2v-6h2v4v2h2h2v-2v2v-2v4h2v-4v2v2v-2h2v2v-6v4v-2h2v2v-2h2v4v-2v-2h2v4v-8v4v4h2v-6v4v-2h2v-2v6v-2v2h2v-2v2v-4h2v4v-2h2v-2v2v2h2v-4v2v-4h2v4v-2v4v-2h2v2v-4v2v2h2v-2v2v-2v-2h2v4v-2v2v-2h2v-4v6v-2h2v2v-2v2h2v-4v2v-6v4h2v2v2h2v-2v2v-2v2h2v-4v2v2v-2h2v2v-2h2v2v-2v-2h2v2v2v-4h2v2v2v-4h2v2v-2v4h2v-4v2v-2v4h2v-2v2v-2h2v2v-2v2h2v-2v2v-2h2v-6v8v-2v-2h2v2v-2v4v-6h2v4v-2h2v2v2v-2v2h2v-2v-2h2v2v-4v2h2v4v-2v2h2v-2v2v-2h2v2v-6v4v2h2v-2v-2h2v4v-4v4h2v-2h2v2v-2v2h2v-4v4v-2v2h2v-2v2v-2v-2h2v2v2h2v-6h2v6v-2h2v2v-4h2v-2v-2v8h2v-4v2h2v-2v4h2v-6v4h2v2v-4v4h2v-2h2v2v-4v4v-4h2v4v-4h2v2v-2v2h2v-6v2v2h2v4v-2v-2h2v4v-2h2v2h2v-2v2v-2h2v-2v4h2v-4h2v-2v6v-6v6h2v-4v4h2v-2h2v2v-4v4h2v-2v2v-2v2h2v-2v-2v-2h2v2v4h2v-2v-2h2v2h2v-2v2v2h2v-2v2v-2h2v-2v2v2h2v-4v4v-2h2v2v-8"/>
<path stroke="#FF0000" d="M199,1260.8v4h2v-8v-10v16h2v-10v14v-12v6h2v4v-2v2v-2h2v-2v-4v4v-6h2v10v-4v-2v-4h2v2v4v4h2v-6v-4v12v-12h2v12v-2v-10v8h2v2v-2v-2h2v2v-8h2v-2v8v-10v12h2v-2v-4h2v6v-10v-2h2v4v-18h2v2v4v-12v22h2v-6v8v10h2v-14v8v2h2v4v-4h2v-4v-2v10v-2h2v-2v-2v-2v6h2v-6v2v-2v-12h2v10v6v-4v4h2v2v2v-4h2v2v6v-8h2v6v-2v-2v-10h2v8v2v2v-2h2v-8v10v-2v-2h2v-4v4v-2h2v4v-10v18v-6h2v-8v-6v2v-14h2v-2v6h2v6v4v-10v16h2v4v-6v6h2v-2v4v-2h2v6v-8v-4v-4h2v10v-6v4v6h2v-18v16v4v-6h2v2v-6v6v-2h2v-4v-4h2v14v-4v-4h2v-4v-8v18v-2h2v-4v6h2v-6v12v-12v2h2v4v-6v4h2v2v-2h2v6v-12v2v-2h2v4v-2v-6v8h2v-2v4v2v-6h2v6v-6v4h2v-2v4v-6v-2h2v-6v6v-4v10h2v-12v12v2h2v-2v-10v12h2v-2v4v-6v4h2v-14v12v2v2h2v-6v2v-6h2v4v2v8h2v-12v6v-2v-2h2v2v-8v8v4h2v-2v-2v-10v10h2v2v-4v-2v4h2v-6v10v-8v2h2v6v-6v6h2v-2v-4v6v-12h2v14v-6v-4h2v2v4h2v-6v8v-2v-2h2v-4v4v-12h2v12v-2v-2h2v-2v12v-12v10h2v-2v2v-8h2v6v-4h2v2v4h2v-6v2v6h2v-12v10h2v-6v4v-6v4h2v-4v4v6h2v-6v-6v12v-12h2v2v-4v12h2v-8v-8v8h2v2v-2v4h2v-8v14v-6v4h2v-4v-8v4v6h2v2v-10h2v6v4v-4h2v4v-2v2h2v-12v12v-2v-6h2v8v-6v8h2v-2v-6v4h2v-4v-4v4v6h2v-4v-2v8v-14h2v10v2h2v-6v-6v6v-4h2v10v-2v2h2v-2v2v-2v-2h2v-4v2v-2h2v8v-6v4v-2h2v-2v-2v10h2v-8v2v4h2v-10v8v-6v2h2v2v-4v6h2v-2v-4v-2h2v6v-2v6h2v-2v-8v10v-10h2v6v4v-8h2v-2h2v8v-8v4v-2h2v-8v-12v-6v-10h2v2v4v10v2h2v16v-2v-4v12h2v-4v6v-8v4h2v-4v8v-4v6h2v2v-4h2v2v-8v-4v2h2v8v-6v6v-2h2v-4v-8v10v4h2v-8h2v8v2v-2h2v-6v2v4v-4h2v6v2v-6v2h2v-10v2v10v-2h2v-2v-4v10v-10h2v6v-2v2v4h2v-10v8h2v-6v2h2v2v2v-2h2v-4v4v4h2v-6v2v-4v8h2v-6v4v-4v6h2v-12v8v2v-6h2v-2v4v4v2h2v2v-4v-6v2h2v-6v4v6v-4h2v6v-4v2v2h2v-2v-6v10v-8h2v6v-8v8v-4h2v2v4v-2v-8h2v6v-6v8h2v-2v-8v8h2v-14v6v8v-4h2v4v-4v6h2v-8v2v2h2v-6v4v-2v8h2v-2v-2h2v-2v6v-2v-6h2v2v-4v2h2v8v2v-2v-14h2v8v4v2v-2h2v-8v6v-2h2v2v-2v-2v2h2v-4v8v-2v6h2v-6v-2v-4h2v10v-10v10v-2h2v-2v-2v4v-6h2v2v6v-6v4h2v2v2v-10h2v-4v8v2v-4h2v2v-2v4h2v-4v2v4h2v-6v4v-2h2v-2v4v-4h2v4v-4v4h2v2v-2v-2h2v-2v6h2v2v-8v6v-2h2v-4v-4v10v-4h2v-2v2v-10v8h2v4v2v2h2v-4v2v-2v-4h2v8v-4v-6h2v-2v-4v10v-10h2v16v-6v-6v4h2v8v-2v-4v2h2v2v-6v8v-10h2v8v-2v-2v2h2v-4v4v2h2v2v-14v12h2v-8v6v-2h2v4v-2v2v-4h2v2v-2v4v-4h2v2v-6h2v2v-2v-8v-2h2v-6v-2v-12v-10h2v2v6v20h2v2v2v10h2v-2v8v-12v6h2v-4v4v2h2v-10v6v8h2v-4v-2v4h2v-6v-8v2h2v-4h2v6v6v-2v6h2v-6v8v2v-8h2v4v2v-2v-2h2v-2v2v-2v6h2v-4v2v2v-6h2v-4v8v2h2v-6v4h2v-2v2v-2h2v2v-2h2v-4v4v-2v8h2v-2v-2v2h2v-2v-6v8h2v-4v2v2v-2h2v2v-2v2v-6h2v4h2v2v-8v4h2v-2v2v-4v10h2v-2v-2v2v-2h2v2v-2v-6v2h2v6v-2v2v-4h2v4h2v-6h2v-2v6v2v-4h2v4v2h2v-12v6v2v-6h2v8v-2v-6h2v8v-4v-2v6h2v-2v2v-8h2v8v-4v6h2v-8v2v2v-4h2v2v2v2h2v-8v6v-14h2v14v-8v12v-2h2v-4v2v2v-4h2v4h2v-8v4v2v-2h2v-12v16v-6h2v2v-4v6h2v2v-14v8v4h2v2v-4v4h2v-8v4h2v-4v8h2v-4v4h2v-6v4v-4h2v4v2v-4v2h2v-2v2v2h2v-6v4v-4v4h2v-2v2v-4v6h2v2v-10h2v-2v6v4v-2h2v2v-10v6v-4h2v-2v-6h2v10v2h2v-2v6v-8h2v6v2v-2v-8h2v10v-6v6h2v2v-6v2v-10h2v10v-4v8v-8h2v6v-6v4v4h2v-6v2v-4h2v8v-6v4v2h2v-2v-4v2v-2h2v4v-4v6v-6h2v4h2v-4v-2v6h2v-4v2h2v2v-8v2v4h2v-2v2v-4v2h2v2v-2v4h2v-2v2v-4v-2h2v8v-8v4v4h2v-2v-2v-6v6h2v2v2v-2h2v-2v2v2v-4h2v4v-6v6h2v-6v2v2v-6h2v4v-4h2v4v-2v2h2v-4v8v-4h2v2v2h2v-2v-2v2v2h2v-4v4v-4h2v2v-4v6v-8h2v4v2v2h2v-12v8v2v-6h2v6v-8v6h2h2v2v2v-2v-4h2v2v4v-4h2v-4v4v-4v4h2v-4v4v-4v8h2v-4h2v-2v4v-2v2h2v-6v6v-8v10h2v-6v4v2v-4h2v4v-4v-4v6h2v2v-8v4h2v2v2v-4v-2h2v-4v10v-4h2v4v-4v-2v-2h2v8v-10v8v-2h2v-4v6h2v-4v4v-4h2v2v-4v6v-2h2v-12v14v-6v2h2v2h2v4v-4v2v-2h2v2v-2h2v2v-4h2v2v2v-2v4h2v-6v2h2v-2v2v2h2v-4v6h2v-4v4v-2v-2h2v2v-2v2h2v-2v2v2v-10h2v8v-4v2v2h2v-4v2v2v-2h2v2v-6v6h2v2v-2v-2h2v4v-6v4h2v-2v2h2v2v-4v-4v8h2v-2v2h2v-2v-2h2v2v-6v6h2v-2v-2v2v4h2v-8v6h2v2v-6v4v-2h2v2v-4v-8h2v4v6h2v-4v-2v-8h2v-2v-6v-14h2v-2v-8v-4h2v-10v-2v-4v-2h2v8v16v14v2h2v4v4v8v4h2v6v-2h2v2v2v-2h2v4v-6v4h2v-6v10v-8v4h2v-2v4v2h2v-4v4v-2h2v-6v4v2h2v-4v4v-4v4h2v2v-2v-2v-4h2v8v-6v6h2v-4v4v-6h2v2v-6v4v4h2v-2v-4v-2h2v10v-2h2v-6v6v2v-4h2v-2v6v-2v-2h2v-2v4v-2h2v2h2v-2v2v2h2v-2v-2v2h2v-8v4v6v-4h2v2v-2v-2h2v2v4v-4v2h2v-2v2h2v-2v2h2v2v-2v-10h2v12v-2h2v-2v2h2v-2v4v-2h2v-2v4v-4v2h2v-4v4h2v2v-8v8h2v-4v4h2v-6v6v-6v4h2v-4v4v-2h2v2v-8h2v8v-2v4h2v-2v-6v2h2v4v2v-2h2v-4v4h2v-6v6v-8h2v10v-4v2v-6h2v-2v4v4v2h2v-6v2v-6v8h2h2v-4h2v4v-2v4h2v-2v-2v2h2v-4v6v-6v4h2v-2v2v2h2v-4v4v-2v2h2v-6v2h2v-2v-4h2v6v-2v4h2v-4v4v-4h2v-4v4v6v-4h2h2v-2v2v-2h2v4v-4v4v-6h2v2v-4v-2h2v4v2h2v2v-4v4v-6h2v4v-6h2v-4v10v-4h2v-4v-2v2h2v-4v4v-2v-4h2v-2h2v-12v6v-2h2v-10v6h2v-6v-8v-8v-16h2v-18v-20v-32v-32h2v-46v-52v-32v-58h2v-20v-6v6v20h2v42v50v52v30h2v38v42v24v24h2v16v4v6v8h2v4v6v2v-4h2v4v4v2h2v-2v-6v8v-2h2v-2v6v-2h2v-2v-2v4v2h2v-4v6h2v-2v-4h2v-2v8v-2v-8h2v10v-8v6h2v-2v2h2v-4v6v-2h2v-4v4h2v-4v2v-2h2v4v-6v6h2v2v-14v6v-2h2v-4v4v4v-2h2v-8v4v-4v-2h2v-2v-2v4v2h2v-6v-2v-4h2v-6v4v-4h2v-2v2v-2v2h2v-12v2v2h2v-2v-4v8v-8h2v-6v-2v2v6h2v-20v6v-4v-6h2v8v-18v-2v-2h2v-2v-10v-10h2v-2v4v-12v-22h2v16v-12v6v-12h2v8v-16v10v-6h2v8v16v-8v8h2v2v16h2v18v-12v14v2h2v16v2h2v6v12v-2v2h2v6v8v4v4h2v6v-2v6h2v-4v8v4h2v-4v-2h2v4v4v-2v2h2v-2v-2v6h2v-2v2v-6v2h2v2v2h2v2v-4h2v4v-2v2v2h2v-2v-2v-2v2h2v4v-2v-2h2v4v-4v4h2v-4v2v-2h2v-2v6v-4h2v4v-4v2h2v2v-12v10h2v-2v2v2h2v-2v-4v6h2v-2v-2v4h2v-4v2v-4h2v2v-8v12h2v-8v6v-2v4h2v-6v6v-2h2v-2v2v-4h2v2v2v2h2v-2v4v-2v-4h2v-4v6h2v2v-2v4v-6h2v2v2h2v-10v10v-2h2v2v2v-2h2v-2v-2v2h2v2v-2v2v-4h2v2v2h2v-2v-2v6v-4h2v2v-4v6v-4h2v-2v2v2h2v2h2v-12v12v-2v-2h2v4v-6h2v2v-2v4h2v-4v6h2v-2v-2v4v-4h2v-4v8v-4h2v2v2h2v-4v2h2v-2v2h2v-2v2v-2v4h2v-2h2v2v-2v-2v-4h2v6v-2v2v-2h2v4v-6v6h2v-4v2v-4h2v4v-2h2v4v-2v2h2v-2v2v-2h2v-2v2h2v2v-2h2v-2v4h2v-4v2h2v2v-2h2v2v-6v4h2v2v-2h2v-6v6h2h2v-4v6v-4h2v4h2v-4v-2v6h2v-8h2v4v4v-6v6h2v-2v2h2v-2v-2v2h2v-2v2v2h2v-4v2h2v2v-4v2v2h2v-4v2v-2v2h2v-2v2h2v-2v-4v2v4h2v-2v4v-2h2v2v-2v-2h2v2v2v-4v4h2v-2v-2v4h2v-2v2h2v-4v2v2h2v-2v-6v8v-4h2v4v-4v4v-2h2v2v-2v2v-2h2v2v-2v-2v4h2v-2v2v-4h2v2v-2v4h2v-2v-2v4h2v-2v2v-4v2h2v-8v6h2v-2v6v-6h2v4v-2v2h2v2v-2v-2v4h2v-2h2v2h2v-2v2v-2h2v2v-4v4h2v-4v4v-2v-2h2v-6v8v-2v2h2v-4v2v2h2v-4v2v4h2v-4h2v2v-6v6v-2h2v2v-2v-6v8h2v2v-2h2v2v-4h2v2h2v2v-2h2v-8v10v-4v2h2v-2v2h2v2v-2v-4v2h2v4v-6v2v2h2v2v-4h2v-2v2v2v-2h2v-2v6v-6v2h2v-4v8h2v-4v4h2v-2v2h2v-4v4h2v-2v-2h2v4v-4v2h2v-2v4h2v-2v2h2v-6v6v-4v4h2v-6v2v2v2h2v-2v2v-6h2v4v-2v2v-2h2v4v-6v6h2v-2v2v-2h2v2v-4v2h2v2v-4v-2h2v6v-2v2h2v-2h2v-4v6v-2h2v2v-6v4v-2h2v2v2h2v-2v-2h2v4v-2v-2v-4h2v8v-4v2h2v-4v6v-2v-2h2v2h2v2v-2v2h2v-4v2v2h2v-4v4v-4h2v2v-2v2h2v-2v-2v6h2v-2h2v-4v6v-2h2v-2v4h2v-4v4h2v-6v6h2h2v-4v4v-6v6h2v-2v-6v6h2v-4v6h2v-8v6v-2h2v4v-4v2v2h2v-2v2h2v-4v4h2v-6v6h2v-2h2v2v-2h2v-4v4v2v-2h2v-2v2v2v-2h2v-6v4h2v2v-6v6v2h2v-4v2h2v-2v4h2v-2v-4v4v-2h2v4v-4h2v2v-6v6h2v2v-2v2h2v-2v-4v4v2h2v-2v-6v8v-2h2v-2v2h2v-4v2v2h2v-2v-2v6h2v-2v2v-2v2h2v-2v-4v6h2v-2v-2v4h2v-2v2v-2h2v-8v8h2v-6v8v-6h2v4v2v-4v4h2v-6v4v2v-4h2v2v-2v2h2v-2v2h2v-2v4v-4h2v2v-2h2v-6v8v-6h2v4h2v-4v4v-2v-2h2v-4v-4v-10h2v-2v-20v-2h2v-20v-12v-10v-8h2v-12v6v10v10h2v14v20v4v16h2v14v-2v2v6h2v4v-2v-2v8h2v-2v-2v4h2v-2v4h2v-2v-2v2h2v-2v2v2h2v-4v4v2h2v-8v4v2v2h2v-2v-4h2v4v-2h2v4v-4v4v-4h2v2v2v-2h2v-4v4v2h2v-2v2v-4v-2h2v2v2v-6h2v2v4v-2h2v2v-4v2v4h2v-6v6v-6h2v4v2v-2h2v2v-2h2v2v-2v2v-4h2v2v-2v-2v4h2v-6v4v2v-2h2v4v-4h2v2v-2v2h2v-6v6v-2h2v2v-8v8v-6h2v4v2v-2v2h2v-2v-2h2v2v4v-4h2v2v-4v-2v6h2v-2v-2v-4v4h2v4v-2v-2h2v2v-2v2v-2h2v-2v-2v4h2v-2v2h2v-4v4v-4v4h2v2v-4h2v-4v2v-2h2v2v-2v2h2v-2v-2v4v2h2v-2v-10v10v-6h2v6v-12v12v-4h2v-4v-2v2h2v-2v2v-2v8h2v-2v-4v4v-4h2v2v-8v2h2v6v-2v-6h2v8v-10v6v-2h2v4v2v2v-4h2v4v-2v-8h2v8v2h2v-6v8v-4h2v4v-4v-4h2v6v2v-2v-4h2v8v-2v-4v6h2v-2v2v-2h2v2v-2v4v-6h2v8v-4v2v2h2v-6v4v4h2v-4v-4v6h2v2v2v-2v-6h2v2v4v-2v-4h2v4v2v-2v-2h2v2v4v-2h2v2v-2h2v4v-6v4h2v-2v2v-2h2v2v-2h2v-2v4v-6h2v2v-2v4v4h2v-2v2v-8h2v6v-4v-4h2v8v-2v4h2v-2v-2v-2h2v2v2v2v-2h2v2v-6h2v2v2v-2h2v-2v2v2v2h2v-4v4v-4v4h2v-2v2h2v-2v-2v2v-4h2v6v-2h2v-4v2v2h2v-4h2v4v-6v8h2v-8v8v-6v4h2v-2v2v-4h2v6v-2v-2v4h2v-4v2h2v-2v2v2h2v-4v2h2h2v-2v2h2v-2v2v-2h2v2v-2v2h2v-2v2v2h2v-4v4v-4h2v2h2v-8v8v-2v2h2v2v-6v6v-6h2v4v-4v4h2v2h2v-2v2v-4h2v-2v6v-2v-2h2v4v-2v2h2v-4v2v-4h2v4v2v-12h2v8v-2v2h2v4v-2v2v-8h2v4v4v-2h2v2v-4h2v4v-2v2h2v-4v2v2h2v-4v2v-2h2v4v-2v-2h2v4v-2v-2h2v4v-2v2v-2h2v2h2v-2v2v-4h2v2v-2v4h2v-4v4v-4v4h2v-2v-2v4h2v-4v2v2h2v-2v-2h2v2v-2h2v2v-4v-2h2v6v2h2v-4v2h2v2v-2v2v-4h2v-2v6v-2v2h2v-6v2v4h2v-6v6h2v-2v-2v2v2h2v-2v2v-8v8h2v-4v-2v4v-2h2v2v-2h2v-2v6v-4h2v2v-2v2v2h2v-2v2v-4h2v2v-2h2v4v-2h2v2v-6v2v2h2v2v-6v2h2v2v-2v4h2v-2v2h2v-2v-8v4h2v6v-2h2v-2v-4v2h2v-4v-8v-4h2v2v-6v8v-2h2v2v4h2v-6v10v2h2v-4v6v-4v8h2v-2v4v-2h2v-2v2v-6v8h2v-6v6h2v-4v2v2h2v-2h2v-6v4v-2h2v6v-6v2v2h2v2v-8v8v-2h2v2v-4h2v-4v4v2h2v-6v4v4h2v-4v4v-2h2v2v-2h2v-6v8v-4v2h2v2h2v-4v4v-2h2v-4v4v-2v4h2v-6v4v-6v6h2v-4v4h2v-4h2v6v-2v-2h2v4v-2v-2v2h2v2h2v-2v2v-2h2v2v-2h2v-2v2h2v2v-6v6h2v-2v-2v2v2h2v-2v-2v4h2v-4v4v-2h2v-2v4v-2h2v2v-6v4h2v2v-4v2v-2h2v4v-2v-10h2v10v2v-4v2h2v2v-4v4h2v-4v2v-2h2v2v-4v2v4h2v-2v2v-4h2v4v-2h2v2v-2v-4h2v2v-2v6v-2h2v-6v8v-2h2v2v-2h2v-6v4v2h2v2v-2v-2h2v4v-4v4v-2h2v-4v6v-2h2v2h2v-2h2v2v-4v-6v10h2v-6v6v-4v2h2v-4v6v-8h2v4v2v2h2v-6v4h2v2v-2v-2h2v4h2v-2v-2v2v-2h2v2v2v-2v2h2v-4v2h2v2v-4v2h2v-4v4v2h2v-6v6v-2h2v-4v4h2v2v-4h2v2v-2v2h2v-4v6h2v-2h2v-2h2v4v-2v-2v2h2v2v-2h2v2v-6v6h2v-2v-8h2v10v-6v6h2v-2v2h2v-4v2v-2h2v2v2h2v-2v-2v2v-2h2v2v2h2v-2v2v-2v-2h2v2v-4v4v-8h2v8v2v-2v-4h2v2v2v-4h2v6v-2v2v-4h2v2h2v-2v2v-2v4h2v-2v-2v-2v4h2v-4v4h2v2v-4v2h2v-6v2h2v2v2v2v-6h2v2v2v-2h2v2v-2h2v-2v4h2v-8v6v-2v2h2v2v-2v2h2v-6v6h2v2v-2v-6v2h2v2h2v-2v4v-2v-4h2v2v2v-2v2h2v2v-4v2h2v-4v-4v8v2h2v-8v4h2v-6v4v-4v4h2v-4v2v2h2v-2v2v-8v-4h2v12v-4v-4v-2h2v2v-2v-8h2v10v-6v4v-4h2v-2v2v-6h2v2v4h2v-4v2h2v-6v-6v4v-2h2v2v2v-6v6h2v-2v-2v6h2v-2v-4v-2v10h2v-6v8v-6v-2h2v4v2v2v-2h2v-4v6v4h2v-8v2v4v6h2v-2v-8v4v4h2v-4v8v-4v-8h2v6v2v8h2v-6v2h2v4v2v-2v-2h2v2v-6v8v-6h2v4v2v-2v-2h2v2v4v-2v4h2v2v-2v-6v2h2v4v-2h2v2v-6v6h2v4v-4v2h2v-2v-2v4v-4h2v4v-2v2h2v-2h2v-4v4h2v-2v4v-6v2h2v4v2v-2h2v-2v4v-4h2v2v-2h2v2v2v-6v4h2v2v-6v6h2v-2v-2v2v-2h2v4v-6v6v-6h2v2v4v-6v4h2v2v-2h2v-4v6v-2h2v-6h2v6v-4h2v6v-4v4h2v-4v4v-4h2v2h2v-2v-4v8h2v-4v2v2v-6h2v4v-2v4v-2h2v2h2v-2v-2v4v-2h2v-2v4v-2v-4h2v4v-4v4v-4h2v4v2v-4v4h2v-6v4v2v-4h2v2v-4v4h2v2v-2v2v-10h2v6v4h2v-2v2h2v-2v-2h2v4v-4v2h2v-2v4v-2h2v2v-4h2v4v-2v-2v2h2v2v-4v2h2v-6v4v2h2v2v-6v6h2v-2v2h2v-2v-2v4h2v-2v2v-4h2v2v-2v4v-4h2v4v-4v4v-4h2v2v2h2v-2v2h2v-4v4h2v-2v2v-4h2v4v-2v-8h2v4v-2v6h2v2v-4v-2h2v6v-4v4v-2h2v2v-4v2h2v2v-4v4h2v-4h2v2h2v2v-2v2v-4h2v4v-4v4h2v-6v2v2v-4h2v2v4h2v-6v6v-2h2v-2v-2h2v4v2v-4h2v2v2v-6v4h2v-6v8h2v-2v-2h2v2v-4v2v4h2v-4v2h2v-2v2h2v-2v4v-2v2h2v-4v2v2h2v-2v-2v4h2v-2v2h2v-4v-2v6h2v-2h2v-2v2v-2v2h2v2v-4h2v2v-4v4h2v-4v2v4h2v-6v6v-4h2v4v-2v2v-2h2v-2v-2v2h2v2v2v-2v-2h2v4v-4v2h2v2v-2v2h2v-2v2v-2h2v-2v2v2h2v-4v2v-2h2v2v2"/>
<path stroke="#000000" d="M199,1472.8v8h2v-2v-8v6.1h2v-2v2h2v-6v8v-10v8.1h2v8v-6v-8v10h2v-2v-8v12v-16h2v14.1v-4v-2v-2h2v2v4v-6h2v8v0.1v-10v4h2v2v2v6v-16h2v14v-3.9v2h2v2v-2v2v-6h2v6v-4v0.1h2v-4v4v-2v-2h2v8v-2h2v4v-7.9v2h2v-4v2v-2v2h2v2v-8v10.1v-8h2v2v2v6v-4h2v-4v6v-6v8h2v-5.9h2v-14v14v6v-2h2v-6v6v2.1v-4h2v-2v-2v4h2v-10v10v-4v8h2v2.1v-4v-4v-2h2v-8v10v2v2h2v2v-14v10.1v2h2v-4v-2h2v6v-6h2v4v-9.9v2v4h2v8v2v-10v6h2v-10v10v-2h2v2.1v-8v6v-4h2v2v4v-6h2v4v-4v4v-1.9h2v6v-2v-2v-2h2v-2v-16v12v-8h2v-10v16v6.1v2h2v2v-6v2h2v8v-16v14v-2h2v-2v0.1v6v-4h2v-12v14v-2h2v-6v6v-2h2v2v2.1v-4h2v2v4v-14v6h2v4v4v-2v-2h2v-6v-1.9v8h2v-4v10v-4h2v-6v2v2h2v-4v8v-15.9v12h2v2v-4h2v4v-4v8h2v-6v6.1h2v-16v10v-4v4h2v6v-4v-4v8h2v-4v-10v14.1h2v-8v8h2v-12v8v-2h2v4v-2h2v4v-9.9v4h2v-10v16v-2v-12h2v12v-4v2h2v-8v12v-8v8.1h2v-2v-6v8v-2h2v-4v8v-8v2h2v2v2v-2v-2h2v-6v0.1v2v2h2v2v2v-2h2v-2v2v4h2v-6v4v-7.9h2v2v-2h2v-8v8v10h2v-2v-2h2v4v-8v2v0.1h2v2v-2v6v-2h2v-2v-6v8h2v-10v4v2h2v2v4v0.1v-6h2v4v-2v2h2v2v-6v-6h2v10v-6v4v2h2v-6v4.1v2h2v-4v2v2v-4h2v2v4v-4v2h2v-2v-4h2v8v-4v2v4.1h2v-6v-4v-6h2v10v-2h2v6v-6v4h2v-4v2v2v-3.9h2v-2v2v2h2v-6v6v4v-2h2v-2v-4v8v-12h2v8v-2v6h2v-3.9v6v-6h2v2v-6v-2v10h2v-6v6v-6h2v2v2v-6h2v8v-10v10h2v-1.9v4v-4h2v2v-4h2v2v-6v4h2v4v-6v2v-2h2v2v2v2.1v-4h2v-4v4v2h2v-4v2v-2h2v2v-2v4h2v-2v2v-4v6h2v-3.9v4h2v-6v4v-6v10h2v-2v2v-8v2h2v6v-4v2h2v-2v-12v8h2v6v-4v4.1v-2h2v2v-2v-2h2v4v2v-4h2v2v-6v2v-2h2v6v2v-18h2v8v8v-6v4.1h2v-4v6v-2h2v2v-4v-4v8h2v-10v2h2v2v2v-8v12h2v-2v-2v2h2v-4v6.1v-10h2v10v-4v4v-2h2v2v-8h2v8v-2v2v-2h2v-8v10v2v-6h2v6v-2v-2v2h2v-6v6.1v-2v-2h2v2h2v-2v-6v10v-8h2v10v-6v-2v-2h2v4v-2v2v4h2v-2v-4v6v-4h2v0.1v2v2v-4h2v-2v6v-2h2v-2v2v-2h2v4v-8v4h2v2v-4h2v6v-4v6h2v-4v-2v2.1v-2h2v2v-4v4h2v2v-2v4v-6h2v4v-6v-4v8h2v-8v10v-2v-6h2v10v-4v-6v8h2v-4v4v2h2v-2v0.1v-6v4h2v4v-2v-2h2v2h2v-6v4v-4v6h2v-10v6v2h2v-4v-2v4h2v4v2v-6h2v2v4.1v-4h2v-6v6v4v-4h2v2v-4v-2v4h2v2v-4h2v4v2v-2h2v2v-10v6h2v-2v6v-2h2v-2v-2v0.1h2v4v-6v8v-2h2v2v-4v2h2v2v-2v-10h2v12v-2v-4h2v4v2v-8v2h2v2v2v-2h2v-2v-2v6h2v-4v2v-1.9h2v-2v4v2h2v2v-2v-6h2v4v4v-10v8h2v-2v2v2v-12h2v8v-2v6h2v-2v2v-4v2h2v-4v-2v6h2v-6v2v6v-2h2v-6v8.1v-4v4h2v-8v4v4h2v-14v12v2v-8h2v6v-8h2v4v-2v-4v6h2v4v2v-4v2h2v-10v10v-4h2v-4v8h2v-4v2h2v4.1v-8h2v2v2v2v-2h2v2v2v-6v2h2v2v-4v4h2v-2v2v2v-2h2v2v-2h2v-2v-4h2v4v2v-2h2v-2v2v-4h2v6v2v-8h2v4v0.1v-2h2v4v2v-2v-2h2v-2v4v-4h2v6v-4v2h2v-4v6v-4v2h2v-6v4v2h2v-4v6v-4v-2h2v4v2v-10h2v4v4h2v2v-4v-2v4h2v2v-4v2.1v-4h2v2v-4v4h2v-4v4h2v-2v4h2v-2v4v-6h2v4v-6v6h2v-4v-4v10v-4h2v-2v4v-2h2v2v-6h2v8v-2v2v-2h2v-6v2v2h2v2v-4h2v2v-7.9v10h2v-8v4v-2v2h2v-2v2v-8v10h2v4v-4v2h2v-4v-2h2v6v2v-2v-2h2v2v-2v-2h2v6v-6v4v-2h2v-2v2v2h2v-2v4v-4v-6h2v8v-2v-4v6h2v2v-2v2v-8h2v4v2v-2v2h2v-1.9v4v-4v-4h2v6v2v-2v-4h2v-2v6h2v-2v4v-6h2v2v-4v8v-2h2v-2v2h2v-2v-4v8h2v-4v4v-2h2v2v-2v-4v4h2v-8v8v-6v8h2v-2v-4v4h2v2v-8v6v-6h2v2v2v-2v4h2v2v-4h2v4v-1.9v2h2v-6v2v4h2v-6v2v2v2h2v-4v4v-2v-4h2v2v2h2v2v-2v-4v-2h2v4h2v2v-2v-2v2h2v-4v2v2h2v4v-6v4h2v-4v6v-4h2v-4v2v2h2v4v-2v2h2v-6v4v-2h2v2v2h2v-6v6v-4h2v2.1v2v-4v-4h2v6v-4v4v-2h2v2v-2h2v2v2v-4v2h2v-2v2h2v-2v4v-2h2v-4h2v2v-4v4v-2h2v6v-4v-2v6h2v-2v2v-2v2h2v-4v4v-6v4h2v2v-6v6v-2h2v-4v6v-2h2v-4v4v-2v-8h2v6v4v-6v4h2v-2v4v-4v4h2v-2v-4v8v-2h2v-2h2v2v-1.9v4h2v-6v4v-2h2v4v-10v6v2h2h2v2v-4h2v2v2v-8h2v8v-2v-6h2v6v-2v-4h2v8v-2v-2h2v2v-6v8h2v-2v2h2v-2v2h2v-2v-6v8v-4h2v4v-2h2v2v-8v2h2v4v2v-4v2h2v-4v4v2h2v-2v-2v2v-4h2v6v-2v-6h2v8v-4v2h2v-2h2v4v-4v0.1v2h2v-2v4v-2h2v-2v2h2v2v-4h2v2v2v-6h2v2v2v2v-6h2v4v2v-4h2v2v-4v2h2v2v-2v2v2h2v-4v2v-2h2v4v-2h2v2v-2h2v-2v-2v-2v6h2v-4v4v-4h2v6v-4v-2h2v2v2v-2h2v-8v8v2v-2h2v-2v2v-2v-6h2v-10v-2v6h2v-12v-8v2v-4h2v4v2v-2v-2h2v18v4h2v2v4v-2h2v4v4v-4v-2h2v4v2v2v-2h2v2v2h2v-2v-1.9v2v-4h2v6v-2v-2v-2h2v2v2v-4v2h2v2v-2h2v4v-2v-2h2v2v2v-4v2h2v-2v4v-6v4h2v-4v6v-6h2v4v-2v2h2v-4v2h2v2v2v-6v6h2v-2v-4h2v-4v8v-2h2v-4v4v4h2v-4v2h2v2v-2v2v-6h2v4v2v-4h2v-4v8v-2h2v2v-4h2v2v-4h2v2v4v-4h2v2v2h2v-2v-2h2v2v-2h2v-2v4h2v2v-4h2v4h2v-2v-4v4h2v-4h2v4v2h2v-2v-4v4v2h2v-2v2v-10h2v8.1v2h2v-4h2v4v-2v-6v6h2v-2v2h2v2v-2v-4v4h2v-2v4h2v-4v2h2v-2v4h2v-2v2v-4h2v2v-8v10v-4h2v2v-6h2v6v-4v2h2v4h2v-6v2v4v-2h2v2v-2h2v2v-4v2h2v-2v4v-2v-4h2v2v2v-4h2v2v-4h2v2v4v2h2v-4v-2v2h2v-4v2v2v-2h2v4v-4v2h2v2v-8v4v4h2v-8v2h2v2v-2v-2v6h2v2v-4v-6v4h2v-4v2h2v2v-6v2v-2h2v6v-4v4v-10h2v10v-2v-6v4h2v-2v2v-8v6h2v-8v-4v-2h2v2v-14v-2v-14h2v-8v-12v-14h2v-12v-8v-18v-22h2v-16v-12v-18v6h2v2v6v6v14h2v20v14v10v20h2v14v10v18v8h2v8v8v2v10h2v4v2v2h2v-2v4v-10v10h2v2.1v-4v6h2v-2v-4v6h2v-2v-2v-2v4h2v2v-6v10v-6h2v2h2v-2v4h2v-2v2v-2h2v-8v6v4h2v-2v-2v2v-2h2v2v-6v6v-2h2v4v-4v-2v2h2v2v2v-6h2v2v2v-4v-2h2v-2v2v-2h2v-2v2v-2h2v-2v2v-4v-2h2v-2v-6v2v-4h2v6v-2v-4v4h2v-6v2v-4v4h2v-6v6v-2h2v-8v4v6v-2h2v-2v-2v6h2v-10v-4v10v-4h2v-6v-8v-4v8h2v-4v-6v-8v-4h2v4v-8v-6v-6h2v-8v-4v-22h2v10v2v-20v12h2v-10v-10v10v6h2v-4v8v-6h2v10v12v4h2v-2v18v-12v18h2v10v8v6h2v-4v-4v16h2v4v-2v10h2v4v8v-2v-2h2v6v2h2v-2v6v-2v-2h2v6v-2v-2h2v4v-2v6v-2h2v-4v6v-6h2v4v2v-2v-4h2v6v-4v6h2v-4v2v-2v-2h2v4v2v-4h2v4v-2v2h2v-2v4h2v-2v2v-2h2v2v-6v2v4h2v-2v-2h2v-2v6v-2v-4h2v6v-2h2v-8v8v-2h2v-2v6v-2h2v2v2v-6h2v-2v4v4h2v-2v-4v6v-6h2v6v-4v-2h2v2v2v-12v6h2v2v4v2v-4h2v-2v6v-8v8h2v-2v-2h2v2v-2v2h2v-2v-2v2v-2h2v-2v8v-4v2h2v-1.9v2v-2h2v4v-2v-2h2v-2v6v-8v4h2v-2v4v-2h2v-2v2v2v-2h2v2v-8v4v6h2v-2v-4v6h2v-6v2v2h2v2v-2v-4h2v6v-2h2v2v-2v-2h2v-2v4h2v-10v10h2v-2v2v2h2v-2h2v-4v4v-2h2v2v-2v4h2v-4h2v2v-2v-2v4h2v2v-4h2v-2v4v-8v8h2v-2h2v2v2h2v-4v-4v8h2v-8v8v-2h2v2h2v-4h2v2v-6v6h2v2v-6v-2h2v6v-2v4h2v-2v2h2v-4v2v-2h2v4h2v-4v4v-6h2v4v-2v-2v6h2v-2v-4h2v2v2v-2h2v2v-2v4h2v-2v-8v8h2v-2v2v2h2v-8v6v-2v4h2v-2v2v-2v-2h2v4v-2h2v-2v4v-2h2v2v-4v2v-4h2v6v-2v-2h2v2h2v2h2v-2v2h2v-2v2h2v-6v2v4v-12h2v8v2v2h2h2v-2v-2v2h2v2v-4v-2v4h2v2v-2v2v-4h2v4v-2h2v-6v6v2h2v-2v2h2v-2v2h2v-2v-4v2h2v4v-4v4v-6h2v4v2v-2h2v-2v2h2v-2v4v-6h2v2v-4v4h2v4v-2h2v2h2v-4v4v-4v-4h2v8v-2v-2h2v-2v4v-2v2h2v-2v4h2v-6v4v-2h2v-6v8v-6v4h2v4v-6v4v-2h2v2v2v-4v2h2v2h2v-6v2v2h2v-4v2v2h2v-2v-4h2v6v-2v4h2v-2v-2h2v2v2h2v-4v4v-2v-4h2v2v4v-2h2v-2v4v-4v2h2v-4v6v-4v4h2v-6v4v-6v8h2v-4v2v-2v4h2v-2v-2v4h2v-6v6v-2h2v-2v-4v6h2v-8v8v-2h2v4v-6v4h2v-2h2v-2v6v-4h2v2v2h2v-2v2v-4v-4h2v8v-2v2h2h2v-2v2v-2h2v-2v4v-2h2v-2v4v-8v8h2v-4v2h2v-2v2v2h2v-8v6v-2v4h2v-2v2v-2v-2h2v4v-6v6h2v-4v-2v4h2v-4v6h2v-2v2h2v-2v-4v4h2v2v-8v4h2v4v-2v2h2v-6v6h2v-6v2v4h2v-4v2v2v-2h2v2v-4h2v2h2v-4h2v4v-2v2h2v2v-4v-2v2h2v2v-2h2v4v-2h2v2v-4v4h2v-2v2v-2v-2h2v4v-2v-6v8h2v-2v-2v4v-4h2v4v-6v6h2v-2v-2v4h2v-2v-2v4h2v-2v2v-4h2v2v2h2v-2v2v-2h2v2v-2v2v-4h2v4v-2v-2h2v-2v2v-4h2v4v4v-2h2v-2v2h2v-2v4v-1.9h2v2v-2v2v-6h2v6v-2h2h2v2h2v-2v2h2v-2v-8h2v8v-2v4v-6h2v2v2v-2v4h2v-2v-2v2v-2h2v2v2v-2h2v2v-4v4v-2h2v2v-2h2v-6v4v2h2v2v-2v2v-6h2v6v-8v4v2h2v-2h2v-4v4v4v-6h2v6v-2v-2h2v4v-4v4h2v-4v4v-2h2v-6v4v2v-2h2v2v2h2v-4v2h2v-2v-4v4h2v-2v-4v6h2v-2v-4v-8h2v-6h2v-2v-4v6h2v2v4v2h2v6v2h2v2v-2v-8v16h2v-10v4v2v4h2v-2v2v-4h2v4v-6v2h2v4v-6v2h2v4v-2v2v-4h2v4v-4v-4h2v8v-6v4h2v-2v2v-2v-2h2v6v-6v4v-4h2v4h2v-2v2h2v2v-2v-2h2v2v2v-2v2h2v-4v2v-2h2v2v-2v4h2v-4v4v-4v-2h2v6v-6v-4h2v8v-4h2v6v-4v2h2v2h2v-4v2v2v-4h2v4v-2v-4v2h2v4v-4v2h2v2v-4h2v2v2h2v-4v2v-4h2v2v-2v-2h2v6v2v-2h2v2v-2v-4v4h2v2v-4h2v-4v6h2v-4h2v4v-2v2h2v-2v2v-8h2v8v-4h2v2v-4v6v-2h2v-2v-6v2h2v6v-2v2h2v-4v-2h2v4v-2v2h2v-4v2v2v-2h2v2v-4h2v4h2v-6v4h2v2v-4v-2h2v8v-2v-4v2h2v2v-2v2h2v-4v2v-8h2v6v2h2v-2v2h2v2v-2v-2h2v4v-6v6v-4h2v2v2h2v2v-2v-4v2h2v2v2v-4h2v4v-8v2h2v8v-4h2v-2v2h2v2v-2v2h2v2v-4v2h2v2v-8v8h2v2v-2v-2v2h2v-2v2v2h2v-2v-2v-2v2h2v2v-6v6h2v2h2h2v-8v6h2v-4v6v-4h2v4v-2v-2v4h2v-8v2v4h2v2v-4v2h2v2v-4v4h2v-2v-4v4v-2h2v2v-2v4h2v-4v2v-4v2h2v4v-4h2v4v-4v2h2v2v-4v4h2v-2v2h2v-4v4h2v-6v6v-4h2v2v2v-4h2v2v-2v2v-6h2v6v-6v6v2h2v-2h2v2v-2v2h2v-4v-2v4h2v-2v2v-2v4h2v-2v-2v2h2v2v-2h2v2v-4v4h2v-2h2v2h2v-2v-4h2v4v-2v-2v4h2v2v-2v-2h2v4v-4v-2h2v4v2v-4v-4h2v2v4v2h2v-4v4v-4h2v-2v2v2v-4h2v6v-2v-2v-2h2v4v2v-4v2h2v-6v8v-4v2h2v2v-4h2v-4v2v6h2v-4v4v-6h2v4h2v2v-2v-2v4h2h2v-2v2h2v-2h2v-2h2v-4v6v2h2v-2v2v-4v4h2v-2v2v-8v4h2v-2v6v-2v-2h2v4v-2v-2h2v2v-2v4v-4h2v-2v2v-2v4h2v-4v4h2v2h2v-2h2v-2v2v-4h2v4v-2v-2v4h2h2v-2v-2h2v4v-2v-2v2h2v2v2v-2h2v2v-4h2v2v2v-2v2h2v-4v4v-2h2v-2v2v2v-2h2v-2v4v-2v-2h2v4v-2h2v2v-2h2v2v-4v4h2v-2h2v-2v4v-4h2v2v-2v4v-2h2v2v-4v-4h2v8v-2v-2h2v2v-2v-4v8h2v-6v4h2v-4v6v-4h2v-4v2h2v-2v-2v-4v-2h2h2v-6v6v8v2h2v-6v2v4v2h2v2v-4v4h2v-4v6v-2h2h2v-2v-2h2v4v2h2v-4v4h2v-2v2h2v-2v-2h2v-4v8h2v-2v-2v2v-2h2v4v-2h2v-4v6h2v-2v-2v4h2h2v-2h2v-2v4v-4h2v2h2v-2v4v-2h2v-2v-2v6v-4h2v2h2v-6v4v4h2v-2v2v-8h2v6v2h2v-6v4v2v-2h2v-4v2v2v-2h2v4v-6v4h2v-2v2v2h2v-4v4v-8v8h2v-2v2h2v-2h2v-4h2v6v-6v2h2v2v-2h2v-2v6v-2h2v2v-2h2v2v-2h2v-2v4h2v-2v-2h2v-6v10v-6h2v-2v6v2h2v-2v-4v4h2v-2v2v2v-2h2v2v-6v6h2v-2v-2h2v4v-8v8h2v-2v-6v8h2v-2v2v-2h2v-2v-2h2v6v-4v4v-4h2v4v-2h2v2v-4v4v-2h2v-2v4h2v-4v4v-2h2v2v-2v2h2v-2v2h2v-2v2h2v-2v-2h2v4v-4v4v-8h2v6v2v-2h2v2v-2h2v-4v4v2h2v-2v-2v4h2v-2v2v-2h2v-2v2v-2v2h2v2v-4v2v2h2h2v-2v-2v2v-2h2v4v-6v4h2v2v-2v2h2v-4v-2h2v6v-2v-2h2v2v-2v4h2v-4v4v-4v2h2v-2v2h2v2v-2v2h2v-2v2h2v-4v2v2h2v-2v-6h2v8v-2v-8h2v10v-2h2v-2v2v2v-2h2v2v-6h2v2v2v2h2v-2v2h2v-8v6v2h2v-2v-4h2v4v-2v2v-4h2v4v2v-2h2v-4v4h2v-4v-2v6h2v-2v4v-2v2h2v-8v6h2v-2v2v-2v4h2v-4v2h2v2v-2v2h2v-2v2h2v-4v2h2v-2v-4v8v-6h2v6v-2v-4h2v6v-4v4h2v-2v-2v-2v6h2v-6v4v-4v4h2v-2v2v-4v4h2v-4v4v-4h2v2v2v-4h2v-2v2v-4v4h2v-4v2v4v-4h2v2v2v2h2v-4v-2v2h2v-2h2v2v-4h2v2v-2v4v-4h2v2v-2v-4v2h2v2v-2v-4h2v-2v4v-4h2v2v-2h2v4v-6v2v2h2v-6v2v-2h2v4v-4v4h2v-4v-2v-2v4h2v2v2v-10h2v6v6v-10v4h2v-6v6h2v4v2v-2h2v2h2v-2v-2v4v2h2v-4v6v-2v-2h2v6v-2v2h2v-2v4v-4h2v2v2v-6v6h2v2v2v-4h2v2v2v-2h2v-2v-6v8h2v-2v6h2v-2v-2v2v2h2v-2h2v-2v2v2h2v-2v-4v4v-4h2v2v-2v6h2v-4v2v-4v4h2v-2v4v-2h2v-4v4v4h2v-2v2v-8h2v6v-2v2h2v2v-2v-2v-2h2v4v-2v-2h2v4v-2v2h2v2v-4h2v4v-6v6v-2h2v-2v4v-6h2v6v-2v-2h2v2v2h2v-2h2v2v-4v2v2h2v-2v2h2v-4v4h2v-4v4v-2h2v2v-4v4h2v-2v2h2v-2v2v-2h2v2v-2h2v-2v4v-2v-2h2v2v2v-2h2v2h2v-2v2h2v-2v2v-4h2v4v-4h2v2v-2h2v2v2v-2h2v2v-2h2v2h2v-2v-2v2h2v2v-2v-4v4h2v-2v4v-4v4h2v-6v2v2h2v2v-8h2v6v-2v2h2v-2v-4v4v-2h2v6v-2h2v-4v6v-6h2v2v2v-4h2v2v2v-4v4h2v2v-2v2h2v-4v4h2v-6v4v-4h2v6v-2v-4h2v4v-2h2v4h2v-2v-2v2h2v-2v-2v4v2h2v-2v2v-4h2v-6v4v2v2h2v2v-2v-2v2h2v-2v-2v4h2v2v-4v4h2v-2v-2h2v2v-2h2v2v2v-2h2v-2h2v-2v4v2v-2h2v-2v2h2v-2v2h2v2v-6v4h2v2v-4h2v4v-2h2v-2v2v2v-2h2h2v-2v4v-2v2h2v-4h2v4v-4v4h2v-6v6v-6h2v6v-2v2h2v-2v-6v8h2v-2v-2h2v4v-8v8h2v-4v2h2v-8v8v2v-2h2v-2v4h2v-2v-4v4v2h2v-4v-2v2v2h2v2v-6v6h2v-2v-2v4h2v-4v2v2v-2h2v2v-4h2v-2v2v2v-2h2v2v-2v2v2h2v-4v2"/>
</g>
<g fill="#000">
<path transform="translate(810.0,398.5) scale(1.000,1.000)" d="M17,35 L3.2,16.4 C1.2,13.8 0,11.6 0,8.4 C0,3.2 2.6,0 6.6,0 L11.6,0 C14,0 15.6,3.4 17,8.4 C18.4,3.4 20,0 22.4,0 L27.4,0 C31.4,0 34,3.2 34,8.4 C34,11.6 32.8,13.8 30.8,16.4 Z"/>
<path transform="translate(808.0,447.4) scale(1.000,1.000)" d="M17.3,0 C21,5.5 26,12 31.2,18.4 C33.4,21 34.6,22.6 34.6,25.2 C34.6,29.4 31.6,32.2 27.8,32.2 C24.6,32.2 22,30.3 20.4,27.2 C20.6,31.2 21.8,34.2 23.2,36.5 L11.4,36.5 C12.8,34.2 14,31.2 14.2,27.2 C12.6,30.3 10,32.2 6.8,32.2 C3,32.2 0,29.4 0,25.2 C0,22.6 1.2,21 3.4,18.4 C8.6,12 13.6,5.5 17.3,0 Z"/>
<ellipse cx="835.0" cy="530.4" rx="11.1" ry="11.4"/>
<path fill="none" stroke="#000" stroke-width="2.9" stroke-linejoin="miter" d="M1051.0,249.6 L1064.0,270.3 L1051.0,291.0 L1038.0,270.3 Z"/>
<path transform="translate(1041.0,312.8) scale(1.000,1.000)" d="M17,35 L3.2,16.4 C1.2,13.8 0,11.6 0,8.4 C0,3.2 2.6,0 6.6,0 L11.6,0 C14,0 15.6,3.4 17,8.4 C18.4,3.4 20,0 22.4,0 L27.4,0 C31.4,0 34,3.2 34,8.4 C34,11.6 32.8,13.8 30.8,16.4 Z"/>
<path d="M1062.4,382.9 L1077.7,402.0 L1062.4,421.1 L1047.1,402.0 Z"/>
<path transform="translate(970.9,477.8) scale(1.000,1.000)" d="M17.3,0 C21,5.5 26,12 31.2,18.4 C33.4,21 34.6,22.6 34.6,25.2 C34.6,29.4 31.6,32.2 27.8,32.2 C24.6,32.2 22,30.3 20.4,27.2 C20.6,31.2 21.8,34.2 23.2,36.5 L11.4,36.5 C12.8,34.2 14,31.2 14.2,27.2 C12.6,30.3 10,32.2 6.8,32.2 C3,32.2 0,29.4 0,25.2 C0,22.6 1.2,21 3.4,18.4 C8.6,12 13.6,5.5 17.3,0 Z"/>
<ellipse cx="988.2" cy="572.3" rx="11.1" ry="11.4"/>
<path fill="none" stroke="#000" stroke-width="2.9" stroke-linejoin="miter" d="M1176.5,523.8 L1189.5,544.5 L1176.5,565.2 L1163.5,544.5 Z"/>
<path transform="translate(1478.3,415.8) scale(1.000,1.000)" d="M17.3,0 C21,5.5 26,12 31.2,18.4 C33.4,21 34.6,22.6 34.6,25.2 C34.6,29.4 31.6,32.2 27.8,32.2 C24.6,32.2 22,30.3 20.4,27.2 C20.6,31.2 21.8,34.2 23.2,36.5 L11.4,36.5 C12.8,34.2 14,31.2 14.2,27.2 C12.6,30.3 10,32.2 6.8,32.2 C3,32.2 0,29.4 0,25.2 C0,22.6 1.2,21 3.4,18.4 C8.6,12 13.6,5.5 17.3,0 Z"/>
<path transform="translate(1475.0,462.5) scale(1.000,1.000)" d="M17,35 L3.2,16.4 C1.2,13.8 0,11.6 0,8.4 C0,3.2 2.6,0 6.6,0 L11.6,0 C14,0 15.6,3.4 17,8.4 C18.4,3.4 20,0 22.4,0 L27.4,0 C31.4,0 34,3.2 34,8.4 C34,11.6 32.8,13.8 30.8,16.4 Z"/>
<ellipse cx="1483.0" cy="536.4" rx="11.1" ry="11.4"/>
<path d="M1578.5,531.6 L1593.8,550.7 L1578.5,569.8 L1563.2,550.7 Z"/>
<ellipse cx="1773.3" cy="474.4" rx="11.1" ry="11.4"/>
<path d="M2009.8,476.1 L2025.1,495.2 L2009.8,514.3 L1994.5,495.2 Z"/>
<path fill="none" stroke="#000" stroke-width="2.9" stroke-linejoin="miter" d="M2017.0,535.6 L2030.0,556.3 L2017.0,577.0 L2004.0,556.3 Z"/>
<path transform="translate(818.2,668.5) scale(1.000,1.000)" d="M17,35 L3.2,16.4 C1.2,13.8 0,11.6 0,8.4 C0,3.2 2.6,0 6.6,0 L11.6,0 C14,0 15.6,3.4 17,8.4 C18.4,3.4 20,0 22.4,0 L27.4,0 C31.4,0 34,3.2 34,8.4 C34,11.6 32.8,13.8 30.8,16.4 Z"/>
<path transform="translate(823.7,705.4) scale(1.000,1.000)" d="M17.3,0 C21,5.5 26,12 31.2,18.4 C33.4,21 34.6,22.6 34.6,25.2 C34.6,29.4 31.6,32.2 27.8,32.2 C24.6,32.2 22,30.3 20.4,27.2 C20.6,31.2 21.8,34.2 23.2,36.5 L11.4,36.5 C12.8,34.2 14,31.2 14.2,27.2 C12.6,30.3 10,32.2 6.8,32.2 C3,32.2 0,29.4 0,25.2 C0,22.6 1.2,21 3.4,18.4 C8.6,12 13.6,5.5 17.3,0 Z"/>
<ellipse cx="836.2" cy="780.5" rx="11.1" ry="11.4"/>
<path transform="translate(957.7,649.5) scale(1.000,1.000)" d="M17.3,0 C21,5.5 26,12 31.2,18.4 C33.4,21 34.6,22.6 34.6,25.2 C34.6,29.4 31.6,32.2 27.8,32.2 C24.6,32.2 22,30.3 20.4,27.2 C20.6,31.2 21.8,34.2 23.2,36.5 L11.4,36.5 C12.8,34.2 14,31.2 14.2,27.2 C12.6,30.3 10,32.2 6.8,32.2 C3,32.2 0,29.4 0,25.2 C0,22.6 1.2,21 3.4,18.4 C8.6,12 13.6,5.5 17.3,0 Z"/>
<ellipse cx="1001.0" cy="649.7" rx="11.1" ry="11.4"/>
<path d="M1063.5,640.3 L1078.8,659.4 L1063.5,678.5 L1048.2,659.4 Z"/>
<path transform="translate(1042.0,601.9) scale(1.000,1.000)" d="M17,35 L3.2,16.4 C1.2,13.8 0,11.6 0,8.4 C0,3.2 2.6,0 6.6,0 L11.6,0 C14,0 15.6,3.4 17,8.4 C18.4,3.4 20,0 22.4,0 L27.4,0 C31.4,0 34,3.2 34,8.4 C34,11.6 32.8,13.8 30.8,16.4 Z"/>
<path fill="none" stroke="#000" stroke-width="2.9" stroke-linejoin="miter" d="M1109.5,648.8 L1122.5,669.5 L1109.5,690.2 L1096.5,669.5 Z"/>
<path fill="none" stroke="#000" stroke-width="2.9" stroke-linejoin="miter" d="M1210.0,767.1 L1223.0,787.8 L1210.0,808.5 L1197.0,787.8 Z"/>
<path transform="translate(1452.7,659.4) scale(1.000,1.000)" d="M17.3,0 C21,5.5 26,12 31.2,18.4 C33.4,21 34.6,22.6 34.6,25.2 C34.6,29.4 31.6,32.2 27.8,32.2 C24.6,32.2 22,30.3 20.4,27.2 C20.6,31.2 21.8,34.2 23.2,36.5 L11.4,36.5 C12.8,34.2 14,31.2 14.2,27.2 C12.6,30.3 10,32.2 6.8,32.2 C3,32.2 0,29.4 0,25.2 C0,22.6 1.2,21 3.4,18.4 C8.6,12 13.6,5.5 17.3,0 Z"/>
<path transform="translate(1464.0,703.5) scale(1.000,1.000)" d="M17,35 L3.2,16.4 C1.2,13.8 0,11.6 0,8.4 C0,3.2 2.6,0 6.6,0 L11.6,0 C14,0 15.6,3.4 17,8.4 C18.4,3.4 20,0 22.4,0 L27.4,0 C31.4,0 34,3.2 34,8.4 C34,11.6 32.8,13.8 30.8,16.4 Z"/>
<path d="M1569.5,783.7 L1584.8,802.8 L1569.5,821.9 L1554.2,802.8 Z"/>
<ellipse cx="1781.0" cy="813.9" rx="11.1" ry="11.4"/>
<path d="M2027.2,728.9 L2042.5,748.0 L2027.2,767.1 L2011.9,748.0 Z"/>
<path fill="none" stroke="#000" stroke-width="2.9" stroke-linejoin="miter" d="M2029.7,781.6 L2042.7,802.3 L2029.7,823.0 L2016.7,802.3 Z"/>
<path transform="translate(821.7,991.2) scale(1.000,1.000)" d="M17,35 L3.2,16.4 C1.2,13.8 0,11.6 0,8.4 C0,3.2 2.6,0 6.6,0 L11.6,0 C14,0 15.6,3.4 17,8.4 C18.4,3.4 20,0 22.4,0 L27.4,0 C31.4,0 34,3.2 34,8.4 C34,11.6 32.8,13.8 30.8,16.4 Z"/>
<path transform="translate(820.7,1064.8) scale(1.000,1.000)" d="M17.3,0 C21,5.5 26,12 31.2,18.4 C33.4,21 34.6,22.6 34.6,25.2 C34.6,29.4 31.6,32.2 27.8,32.2 C24.6,32.2 22,30.3 20.4,27.2 C20.6,31.2 21.8,34.2 23.2,36.5 L11.4,36.5 C12.8,34.2 14,31.2 14.2,27.2 C12.6,30.3 10,32.2 6.8,32.2 C3,32.2 0,29.4 0,25.2 C0,22.6 1.2,21 3.4,18.4 C8.6,12 13.6,5.5 17.3,0 Z"/>
<ellipse cx="848.6" cy="1143.3" rx="11.1" ry="11.4"/>
<path transform="translate(934.9,941.0) scale(1.000,1.000)" d="M17.3,0 C21,5.5 26,12 31.2,18.4 C33.4,21 34.6,22.6 34.6,25.2 C34.6,29.4 31.6,32.2 27.8,32.2 C24.6,32.2 22,30.3 20.4,27.2 C20.6,31.2 21.8,34.2 23.2,36.5 L11.4,36.5 C12.8,34.2 14,31.2 14.2,27.2 C12.6,30.3 10,32.2 6.8,32.2 C3,32.2 0,29.4 0,25.2 C0,22.6 1.2,21 3.4,18.4 C8.6,12 13.6,5.5 17.3,0 Z"/>
<ellipse cx="996.0" cy="875.5" rx="11.1" ry="11.4"/>
<path fill="none" stroke="#000" stroke-width="2.9" stroke-linejoin="miter" d="M1060.5,933.5 L1073.5,954.2 L1060.5,974.9 L1047.5,954.2 Z"/>
<path transform="translate(1041.0,1019.7) scale(1.000,1.000)" d="M17,35 L3.2,16.4 C1.2,13.8 0,11.6 0,8.4 C0,3.2 2.6,0 6.6,0 L11.6,0 C14,0 15.6,3.4 17,8.4 C18.4,3.4 20,0 22.4,0 L27.4,0 C31.4,0 34,3.2 34,8.4 C34,11.6 32.8,13.8 30.8,16.4 Z"/>
<path d="M1063.4,1070.9 L1078.7,1090.0 L1063.4,1109.1 L1048.1,1090.0 Z"/>
<path fill="none" stroke="#000" stroke-width="2.9" stroke-linejoin="miter" d="M1201.7,1201.1 L1214.7,1221.8 L1201.7,1242.5 L1188.7,1221.8 Z"/>
<path transform="translate(1452.4,973.2) scale(1.000,1.000)" d="M17.3,0 C21,5.5 26,12 31.2,18.4 C33.4,21 34.6,22.6 34.6,25.2 C34.6,29.4 31.6,32.2 27.8,32.2 C24.6,32.2 22,30.3 20.4,27.2 C20.6,31.2 21.8,34.2 23.2,36.5 L11.4,36.5 C12.8,34.2 14,31.2 14.2,27.2 C12.6,30.3 10,32.2 6.8,32.2 C3,32.2 0,29.4 0,25.2 C0,22.6 1.2,21 3.4,18.4 C8.6,12 13.6,5.5 17.3,0 Z"/>
<path transform="translate(1456.8,1051.5) scale(1.000,1.000)" d="M17,35 L3.2,16.4 C1.2,13.8 0,11.6 0,8.4 C0,3.2 2.6,0 6.6,0 L11.6,0 C14,0 15.6,3.4 17,8.4 C18.4,3.4 20,0 22.4,0 L27.4,0 C31.4,0 34,3.2 34,8.4 C34,11.6 32.8,13.8 30.8,16.4 Z"/>
<ellipse cx="1475.0" cy="1113.1" rx="11.1" ry="11.4"/>
<path d="M1573.2,1180.8 L1588.5,1199.9 L1573.2,1219.0 L1557.9,1199.9 Z"/>
<ellipse cx="1770.9" cy="1196.3" rx="11.1" ry="11.4"/>
<path d="M2016.8,1091.2 L2032.1,1110.3 L2016.8,1129.4 L2001.5,1110.3 Z"/>
<path fill="none" stroke="#000" stroke-width="2.9" stroke-linejoin="miter" d="M2018.0,1149.0 L2031.0,1169.7 L2018.0,1190.4 L2005.0,1169.7 Z"/>
<path transform="translate(821.8,1276.5) scale(1.000,1.000)" d="M17,35 L3.2,16.4 C1.2,13.8 0,11.6 0,8.4 C0,3.2 2.6,0 6.6,0 L11.6,0 C14,0 15.6,3.4 17,8.4 C18.4,3.4 20,0 22.4,0 L27.4,0 C31.4,0 34,3.2 34,8.4 C34,11.6 32.8,13.8 30.8,16.4 Z"/>
<path transform="translate(809.7,1321.8) scale(1.000,1.000)" d="M17.3,0 C21,5.5 26,12 31.2,18.4 C33.4,21 34.6,22.6 34.6,25.2 C34.6,29.4 31.6,32.2 27.8,32.2 C24.6,32.2 22,30.3 20.4,27.2 C20.6,31.2 21.8,34.2 23.2,36.5 L11.4,36.5 C12.8,34.2 14,31.2 14.2,27.2 C12.6,30.3 10,32.2 6.8,32.2 C3,32.2 0,29.4 0,25.2 C0,22.6 1.2,21 3.4,18.4 C8.6,12 13.6,5.5 17.3,0 Z"/>
<ellipse cx="840.0" cy="1405.4" rx="11.1" ry="11.4"/>
<path transform="translate(942.5,1287.8) scale(1.000,1.000)" d="M17.3,0 C21,5.5 26,12 31.2,18.4 C33.4,21 34.6,22.6 34.6,25.2 C34.6,29.4 31.6,32.2 27.8,32.2 C24.6,32.2 22,30.3 20.4,27.2 C20.6,31.2 21.8,34.2 23.2,36.5 L11.4,36.5 C12.8,34.2 14,31.2 14.2,27.2 C12.6,30.3 10,32.2 6.8,32.2 C3,32.2 0,29.4 0,25.2 C0,22.6 1.2,21 3.4,18.4 C8.6,12 13.6,5.5 17.3,0 Z"/>
<ellipse cx="992.5" cy="1278.2" rx="11.1" ry="11.4"/>
<path transform="translate(1055.0,1280.1) scale(1.000,1.000)" d="M17,35 L3.2,16.4 C1.2,13.8 0,11.6 0,8.4 C0,3.2 2.6,0 6.6,0 L11.6,0 C14,0 15.6,3.4 17,8.4 C18.4,3.4 20,0 22.4,0 L27.4,0 C31.4,0 34,3.2 34,8.4 C34,11.6 32.8,13.8 30.8,16.4 Z"/>
<path fill="none" stroke="#000" stroke-width="2.9" stroke-linejoin="miter" d="M1115.0,1280.0 L1128.0,1300.7 L1115.0,1321.4 L1102.0,1300.7 Z"/>
<path d="M1076.3,1326.9 L1091.6,1346.0 L1076.3,1365.1 L1061.0,1346.0 Z"/>
<path fill="none" stroke="#000" stroke-width="2.9" stroke-linejoin="miter" d="M1208.8,1394.3 L1221.8,1415.0 L1208.8,1435.7 L1195.8,1415.0 Z"/>
<path transform="translate(1450.4,1295.8) scale(1.000,1.000)" d="M17.3,0 C21,5.5 26,12 31.2,18.4 C33.4,21 34.6,22.6 34.6,25.2 C34.6,29.4 31.6,32.2 27.8,32.2 C24.6,32.2 22,30.3 20.4,27.2 C20.6,31.2 21.8,34.2 23.2,36.5 L11.4,36.5 C12.8,34.2 14,31.2 14.2,27.2 C12.6,30.3 10,32.2 6.8,32.2 C3,32.2 0,29.4 0,25.2 C0,22.6 1.2,21 3.4,18.4 C8.6,12 13.6,5.5 17.3,0 Z"/>
<path transform="translate(1450.7,1369.1) scale(1.000,1.000)" d="M17,35 L3.2,16.4 C1.2,13.8 0,11.6 0,8.4 C0,3.2 2.6,0 6.6,0 L11.6,0 C14,0 15.6,3.4 17,8.4 C18.4,3.4 20,0 22.4,0 L27.4,0 C31.4,0 34,3.2 34,8.4 C34,11.6 32.8,13.8 30.8,16.4 Z"/>
<ellipse cx="1471.4" cy="1433.4" rx="11.1" ry="11.4"/>
<path d="M1576.3,1413.1 L1591.6,1432.2 L1576.3,1451.3 L1561.0,1432.2 Z"/>
<ellipse cx="1776.2" cy="1437.5" rx="11.1" ry="11.4"/>
<path fill="none" stroke="#000" stroke-width="2.9" stroke-linejoin="miter" d="M2016.8,1337.6 L2029.8,1358.3 L2016.8,1379.0 L2003.8,1358.3 Z"/>
<path d="M2024.6,1400.2 L2039.9,1419.3 L2024.6,1438.4 L2009.3,1419.3 Z"/>
</g>
<rect x="198" y="28.5" width="2037" height="1515" fill="none" stroke="#000" stroke-width="10.5"/>
<rect x="447.3" y="1514" width="10.4" height="26" fill="#000"/>
<rect x="956.3" y="1514" width="10.4" height="26" fill="#000"/>
<rect x="1465.3" y="1514" width="10.4" height="26" fill="#000"/>
<rect x="1974.3" y="1514" width="10.4" height="26" fill="#000"/>
<g font-family="'Liberation Serif','Times New Roman',serif" font-weight="bold" font-size="80" text-anchor="middle" fill="#000">
<text x="452.5" y="1635.7">20</text>
<text x="961.5" y="1635.7">40</text>
<text x="1470.5" y="1635.7">60</text>
<text x="1979.5" y="1635.7">80</text>
</g>
<text font-family="'Liberation Serif','Times New Roman',serif" font-weight="bold" font-size="119.5" fill="#000"><tspan x="1067.2" y="1786">2</tspan><tspan x="1129" y="1786.5" font-size="113">θ</tspan><tspan x="1191" y="1786.5" font-size="119">/</tspan><tspan x="1222.9" y="1787.4" font-size="115">(</tspan><tspan x="1260.5" y="1795.5" font-size="131">°</tspan><tspan x="1307.5" y="1787.4" font-size="115">)</tspan></text>
<text font-family="'Liberation Serif','Times New Roman',serif" font-weight="bold" font-size="120" transform="translate(111.8,1211.4) rotate(-90)" fill="#000">intensity(a.u.)</text>
<g font-family="'Liberation Serif','Times New Roman',serif" font-weight="bold" font-size="78" fill="#000">
<text transform="translate(221.5,559) scale(0.972,1)">B4</text>
<text transform="translate(226.5,782) scale(0.972,1)">B3</text>
<text transform="translate(218.2,1154) scale(0.972,1)">B2</text>
<text transform="translate(219.5,1417) scale(0.972,1)">B1</text>
</g>
<g font-family="'Liberation Serif','Times New Roman',serif" font-weight="bold" font-size="72.5" fill="#000">
<text x="1491.3" y="118"><tspan font-style="italic">α</tspan>-Fe</text>
<text x="1730.3" y="118">TiC</text>
<text x="1931.5" y="118">Ni<tspan font-size="45.5" dy="19">3</tspan><tspan dy="-19">Ti</tspan></text>
<text x="1471.5" y="259.5">Cr<tspan font-size="45.5" dy="21">7</tspan><tspan dy="-21">C</tspan><tspan font-size="45.5" dy="21">3</tspan></text>
<text x="1739" y="259.8">Fe<tspan x="1812.5" dy="30.5">3</tspan><tspan x="1848" dy="-30.5">C</tspan></text>
</g>
<g fill="#000">
<path d="M1446.5,81.1 L1461.8,99.9 L1446.5,118.8 L1431.2,99.9 Z"/>
<ellipse cx="1697.0" cy="99.5" rx="11.8" ry="12.1"/>
<path transform="translate(1874.2,83.3) scale(1.029,1.006)" d="M17,35 L3.2,16.4 C1.2,13.8 0,11.6 0,8.4 C0,3.2 2.6,0 6.6,0 L11.6,0 C14,0 15.6,3.4 17,8.4 C18.4,3.4 20,0 22.4,0 L27.4,0 C31.4,0 34,3.2 34,8.4 C34,11.6 32.8,13.8 30.8,16.4 Z"/>
<path fill="none" stroke="#000" stroke-width="3.4" stroke-linejoin="miter" d="M1437.8,217.6 L1450.8,237.2 L1437.8,256.8 L1424.8,237.2 Z"/>
<path transform="translate(1680.0,222.8) scale(1.020,1.014)" d="M17.3,0 C21,5.5 26,12 31.2,18.4 C33.4,21 34.6,22.6 34.6,25.2 C34.6,29.4 31.6,32.2 27.8,32.2 C24.6,32.2 22,30.3 20.4,27.2 C20.6,31.2 21.8,34.2 23.2,36.5 L11.4,36.5 C12.8,34.2 14,31.2 14.2,27.2 C12.6,30.3 10,32.2 6.8,32.2 C3,32.2 0,29.4 0,25.2 C0,22.6 1.2,21 3.4,18.4 C8.6,12 13.6,5.5 17.3,0 Z"/>
</g>
</svg>
</body></html>
